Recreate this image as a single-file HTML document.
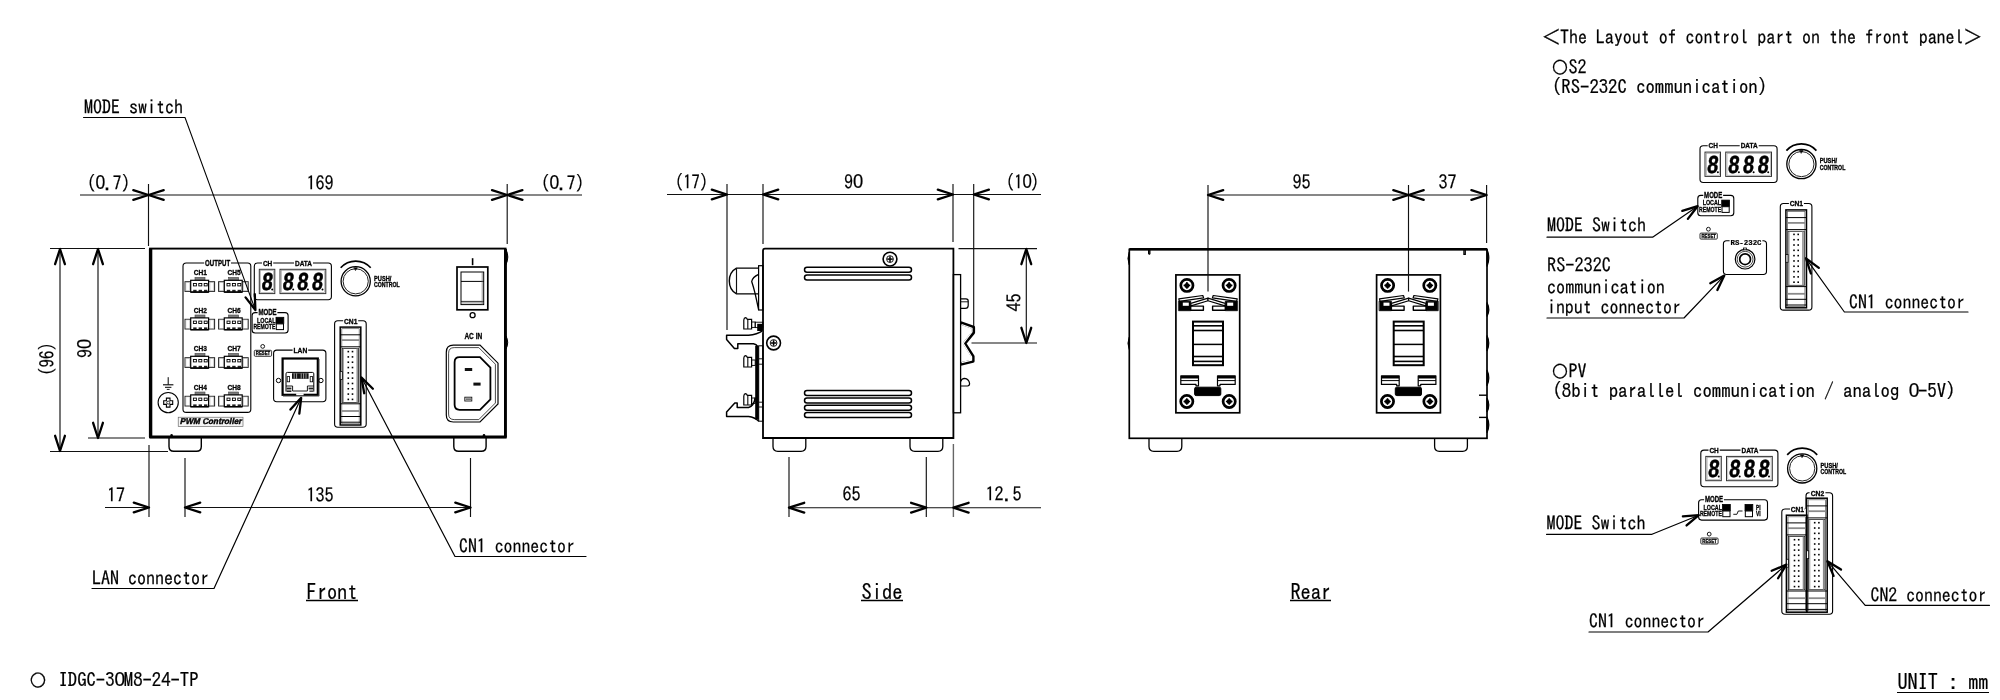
<!DOCTYPE html>
<html lang="en"><head><meta charset="utf-8"><title>IDGC-30M8-24-TP outline drawing</title>
<style>
html,body{margin:0;padding:0;background:#fff;}
body{width:2000px;height:700px;overflow:hidden;}
svg{display:block;will-change:transform;}
text{fill:#000;}
</style></head><body>
<svg width="2000" height="700" viewBox="0 0 2000 700">
<rect x="0" y="0" width="2000" height="700" fill="#fff"/>
<line x1="80.00" y1="195.00" x2="582.00" y2="195.00" stroke="#111" stroke-width="1.15" />
<line x1="148.50" y1="184.00" x2="148.50" y2="246.00" stroke="#111" stroke-width="1.15" />
<line x1="507.20" y1="184.00" x2="507.20" y2="244.00" stroke="#111" stroke-width="1.15" />
<path d="M133.30 199.90 L148.50 195.00 L133.30 190.10" stroke="#000" stroke-width="2.3" fill="none" stroke-linejoin="round" stroke-linecap="round"/>
<path d="M163.70 190.10 L148.50 195.00 L163.70 199.90" stroke="#000" stroke-width="2.3" fill="none" stroke-linejoin="round" stroke-linecap="round"/>
<path d="M492.00 199.90 L507.20 195.00 L492.00 190.10" stroke="#000" stroke-width="2.3" fill="none" stroke-linejoin="round" stroke-linecap="round"/>
<path d="M522.40 190.10 L507.20 195.00 L522.40 199.90" stroke="#000" stroke-width="2.3" fill="none" stroke-linejoin="round" stroke-linecap="round"/>
<text transform="translate(87.00,190.00) scale(0.8912,1)" x="0.00 9.65 19.30 28.95 38.60" font-family='"IPAGothic","Liberation Mono",monospace' font-size="19.3" stroke="#000" stroke-width="0.22" ><tspan y="0">(</tspan><tspan y="-1.0" font-family='"Liberation Sans",sans-serif' font-size="19.69">0</tspan><tspan y="0">.7)</tspan></text>
<text transform="translate(306.50,190.00) scale(0.9326,1)" font-family='"IPAGothic","Liberation Mono",monospace' font-size="19.3" stroke="#000" stroke-width="0.22" >169</text>
<text transform="translate(541.00,190.00) scale(0.8912,1)" x="0.00 9.65 19.30 28.95 38.60" font-family='"IPAGothic","Liberation Mono",monospace' font-size="19.3" stroke="#000" stroke-width="0.22" ><tspan y="0">(</tspan><tspan y="-1.0" font-family='"Liberation Sans",sans-serif' font-size="19.69">0</tspan><tspan y="0">.7)</tspan></text>
<line x1="60.00" y1="250.00" x2="60.00" y2="449.00" stroke="#111" stroke-width="1.15" />
<line x1="98.00" y1="250.00" x2="98.00" y2="437.00" stroke="#111" stroke-width="1.15" />
<line x1="50.00" y1="248.50" x2="145.00" y2="248.50" stroke="#111" stroke-width="1.15" />
<line x1="88.00" y1="438.00" x2="145.00" y2="438.00" stroke="#111" stroke-width="1.15" />
<line x1="50.00" y1="451.50" x2="168.00" y2="451.50" stroke="#111" stroke-width="1.15" />
<path d="M64.90 264.20 L60.00 249.00 L55.10 264.20" stroke="#000" stroke-width="2.3" fill="none" stroke-linejoin="round" stroke-linecap="round"/>
<path d="M55.10 435.80 L60.00 451.00 L64.90 435.80" stroke="#000" stroke-width="2.3" fill="none" stroke-linejoin="round" stroke-linecap="round"/>
<path d="M102.90 264.20 L98.00 249.00 L93.10 264.20" stroke="#000" stroke-width="2.3" fill="none" stroke-linejoin="round" stroke-linecap="round"/>
<path d="M93.10 422.80 L98.00 438.00 L102.90 422.80" stroke="#000" stroke-width="2.3" fill="none" stroke-linejoin="round" stroke-linecap="round"/>
<g transform="translate(54.4,375.8) rotate(-90)">
<text transform="translate(0.00,0.00) scale(0.8679,1)" font-family='"IPAGothic","Liberation Mono",monospace' font-size="19.3" stroke="#000" stroke-width="0.22" >(96)</text>
</g>
<g transform="translate(92,358)  rotate(-90)">
<text transform="translate(0.00,0.00) scale(0.9326,1)" x="0.00 9.65" font-family='"IPAGothic","Liberation Mono",monospace' font-size="19.3" stroke="#000" stroke-width="0.22" ><tspan y="0">9</tspan><tspan y="-1.0" font-family='"Liberation Sans",sans-serif' font-size="19.69">0</tspan></text>
</g>
<line x1="105.00" y1="507.50" x2="149.00" y2="507.50" stroke="#111" stroke-width="1.15" />
<line x1="185.00" y1="507.50" x2="470.00" y2="507.50" stroke="#111" stroke-width="1.15" />
<line x1="149.00" y1="445.00" x2="149.00" y2="517.00" stroke="#111" stroke-width="1.15" />
<line x1="185.00" y1="458.00" x2="185.00" y2="517.00" stroke="#111" stroke-width="1.15" />
<line x1="470.50" y1="458.00" x2="470.50" y2="517.00" stroke="#111" stroke-width="1.15" />
<path d="M133.80 512.40 L149.00 507.50 L133.80 502.60" stroke="#000" stroke-width="2.3" fill="none" stroke-linejoin="round" stroke-linecap="round"/>
<path d="M200.20 502.60 L185.00 507.50 L200.20 512.40" stroke="#000" stroke-width="2.3" fill="none" stroke-linejoin="round" stroke-linecap="round"/>
<path d="M455.30 512.40 L470.50 507.50 L455.30 502.60" stroke="#000" stroke-width="2.3" fill="none" stroke-linejoin="round" stroke-linecap="round"/>
<text transform="translate(107.00,502.00) scale(0.9326,1)" font-family='"IPAGothic","Liberation Mono",monospace' font-size="19.3" stroke="#000" stroke-width="0.22" >17</text>
<text transform="translate(306.50,502.00) scale(0.9326,1)" font-family='"IPAGothic","Liberation Mono",monospace' font-size="19.3" stroke="#000" stroke-width="0.22" >135</text>
<rect x="150.00" y="248.60" width="355.60" height="188.60" stroke="#000" stroke-width="1.9" fill="none"/>
<line x1="150.60" y1="249.00" x2="150.60" y2="437.00" stroke="#000" stroke-width="3.4" />
<line x1="505.40" y1="249.00" x2="505.40" y2="437.00" stroke="#000" stroke-width="2.8" />
<line x1="149.60" y1="437.00" x2="506.60" y2="437.00" stroke="#000" stroke-width="2.9" />
<path d="M506 249.5 Q509.6 257 506 264.5 Z" stroke="#000" stroke-width="1" fill="#000" />
<path d="M506 336 Q509.4 342.5 506 349 Z" stroke="#000" stroke-width="1" fill="#000" />
<path d="M169 438 V446.5 Q169 451.3 173.8 451.3 H196.5 Q201.3 451.3 201.3 446.5 V438" stroke="#000" stroke-width="1.4" fill="none" />
<path d="M453.8 438 V446.5 Q453.8 451.3 458.6 451.3 H481.3 Q486.1 451.3 486.1 446.5 V438" stroke="#000" stroke-width="1.4" fill="none" />
<circle cx="171.60" cy="435.40" r="1.30" stroke="#000" stroke-width="0" fill="#000"/>
<circle cx="484.00" cy="435.40" r="1.30" stroke="#000" stroke-width="0" fill="#000"/>
<g transform="translate(0.00,0.00)">
<path d="M183 266.2 V409.2 Q183 412.4 186.2 412.4 H247.60000000000002 Q250.8 412.4 250.8 409.2 V266.2 Q250.8 263 247.60000000000002 263 H231 M204.2 263 H186.2 Q183 263 183 266.2" stroke="#000" stroke-width="1.1" fill="none" />
<text x="217.60" y="265.70" font-family='"Liberation Sans",sans-serif' font-size="8.16" font-weight="bold" text-anchor="middle" textLength="25.0" lengthAdjust="spacingAndGlyphs"  stroke="#000" stroke-width="0.32">OUTPUT</text>
<text x="200.40" y="275.10" font-family='"Liberation Sans",sans-serif' font-size="7.92" font-weight="bold" text-anchor="middle" textLength="13.2" lengthAdjust="spacingAndGlyphs"  stroke="#000" stroke-width="0.32">CH1</text>
<rect x="195.00" y="277.40" width="10.00" height="3.00" stroke="#444" stroke-width="0.6" fill="#7d7d7d"/>
<rect x="185.00" y="281.70" width="29.60" height="9.70" stroke="#222" stroke-width="1.0" fill="none"/>
<rect x="185.90" y="282.30" width="3.70" height="8.50" stroke="#aaa" stroke-width="0.5" fill="none"/>
<rect x="210.00" y="282.30" width="3.70" height="8.50" stroke="#aaa" stroke-width="0.5" fill="none"/>
<rect x="190.70" y="280.30" width="17.90" height="11.80" stroke="#000" stroke-width="1.2" fill="#fff"/>
<rect x="193.40" y="283.50" width="3.00" height="2.40" stroke="#000" stroke-width="0.9" fill="none"/>
<rect x="193.20" y="289.80" width="3.40" height="2.30" stroke="none" stroke-width="0" fill="#222"/>
<rect x="198.80" y="283.50" width="3.00" height="2.40" stroke="#000" stroke-width="0.9" fill="none"/>
<rect x="198.60" y="289.80" width="3.40" height="2.30" stroke="none" stroke-width="0" fill="#222"/>
<rect x="204.20" y="283.50" width="3.00" height="2.40" stroke="#000" stroke-width="0.9" fill="none"/>
<rect x="204.00" y="289.80" width="3.40" height="2.30" stroke="none" stroke-width="0" fill="#222"/>
<line x1="190.70" y1="292.10" x2="208.60" y2="292.10" stroke="#000" stroke-width="1.4" />
<text x="234.00" y="275.10" font-family='"Liberation Sans",sans-serif' font-size="7.92" font-weight="bold" text-anchor="middle" textLength="13.2" lengthAdjust="spacingAndGlyphs"  stroke="#000" stroke-width="0.32">CH5</text>
<rect x="228.60" y="277.40" width="10.00" height="3.00" stroke="#444" stroke-width="0.6" fill="#7d7d7d"/>
<rect x="218.60" y="281.70" width="29.60" height="9.70" stroke="#222" stroke-width="1.0" fill="none"/>
<rect x="219.50" y="282.30" width="3.70" height="8.50" stroke="#aaa" stroke-width="0.5" fill="none"/>
<rect x="243.60" y="282.30" width="3.70" height="8.50" stroke="#aaa" stroke-width="0.5" fill="none"/>
<rect x="224.30" y="280.30" width="17.90" height="11.80" stroke="#000" stroke-width="1.2" fill="#fff"/>
<rect x="227.00" y="283.50" width="3.00" height="2.40" stroke="#000" stroke-width="0.9" fill="none"/>
<rect x="226.80" y="289.80" width="3.40" height="2.30" stroke="none" stroke-width="0" fill="#222"/>
<rect x="232.40" y="283.50" width="3.00" height="2.40" stroke="#000" stroke-width="0.9" fill="none"/>
<rect x="232.20" y="289.80" width="3.40" height="2.30" stroke="none" stroke-width="0" fill="#222"/>
<rect x="237.80" y="283.50" width="3.00" height="2.40" stroke="#000" stroke-width="0.9" fill="none"/>
<rect x="237.60" y="289.80" width="3.40" height="2.30" stroke="none" stroke-width="0" fill="#222"/>
<line x1="224.30" y1="292.10" x2="242.20" y2="292.10" stroke="#000" stroke-width="1.4" />
<text x="200.40" y="312.70" font-family='"Liberation Sans",sans-serif' font-size="7.92" font-weight="bold" text-anchor="middle" textLength="13.2" lengthAdjust="spacingAndGlyphs"  stroke="#000" stroke-width="0.32">CH2</text>
<rect x="195.00" y="315.00" width="10.00" height="3.00" stroke="#444" stroke-width="0.6" fill="#7d7d7d"/>
<rect x="185.00" y="319.30" width="29.60" height="9.70" stroke="#222" stroke-width="1.0" fill="none"/>
<rect x="185.90" y="319.90" width="3.70" height="8.50" stroke="#aaa" stroke-width="0.5" fill="none"/>
<rect x="210.00" y="319.90" width="3.70" height="8.50" stroke="#aaa" stroke-width="0.5" fill="none"/>
<rect x="190.70" y="317.90" width="17.90" height="11.80" stroke="#000" stroke-width="1.2" fill="#fff"/>
<rect x="193.40" y="321.10" width="3.00" height="2.40" stroke="#000" stroke-width="0.9" fill="none"/>
<rect x="193.20" y="327.40" width="3.40" height="2.30" stroke="none" stroke-width="0" fill="#222"/>
<rect x="198.80" y="321.10" width="3.00" height="2.40" stroke="#000" stroke-width="0.9" fill="none"/>
<rect x="198.60" y="327.40" width="3.40" height="2.30" stroke="none" stroke-width="0" fill="#222"/>
<rect x="204.20" y="321.10" width="3.00" height="2.40" stroke="#000" stroke-width="0.9" fill="none"/>
<rect x="204.00" y="327.40" width="3.40" height="2.30" stroke="none" stroke-width="0" fill="#222"/>
<line x1="190.70" y1="329.70" x2="208.60" y2="329.70" stroke="#000" stroke-width="1.4" />
<text x="234.00" y="312.70" font-family='"Liberation Sans",sans-serif' font-size="7.92" font-weight="bold" text-anchor="middle" textLength="13.2" lengthAdjust="spacingAndGlyphs"  stroke="#000" stroke-width="0.32">CH6</text>
<rect x="228.60" y="315.00" width="10.00" height="3.00" stroke="#444" stroke-width="0.6" fill="#7d7d7d"/>
<rect x="218.60" y="319.30" width="29.60" height="9.70" stroke="#222" stroke-width="1.0" fill="none"/>
<rect x="219.50" y="319.90" width="3.70" height="8.50" stroke="#aaa" stroke-width="0.5" fill="none"/>
<rect x="243.60" y="319.90" width="3.70" height="8.50" stroke="#aaa" stroke-width="0.5" fill="none"/>
<rect x="224.30" y="317.90" width="17.90" height="11.80" stroke="#000" stroke-width="1.2" fill="#fff"/>
<rect x="227.00" y="321.10" width="3.00" height="2.40" stroke="#000" stroke-width="0.9" fill="none"/>
<rect x="226.80" y="327.40" width="3.40" height="2.30" stroke="none" stroke-width="0" fill="#222"/>
<rect x="232.40" y="321.10" width="3.00" height="2.40" stroke="#000" stroke-width="0.9" fill="none"/>
<rect x="232.20" y="327.40" width="3.40" height="2.30" stroke="none" stroke-width="0" fill="#222"/>
<rect x="237.80" y="321.10" width="3.00" height="2.40" stroke="#000" stroke-width="0.9" fill="none"/>
<rect x="237.60" y="327.40" width="3.40" height="2.30" stroke="none" stroke-width="0" fill="#222"/>
<line x1="224.30" y1="329.70" x2="242.20" y2="329.70" stroke="#000" stroke-width="1.4" />
<text x="200.40" y="351.10" font-family='"Liberation Sans",sans-serif' font-size="7.92" font-weight="bold" text-anchor="middle" textLength="13.2" lengthAdjust="spacingAndGlyphs"  stroke="#000" stroke-width="0.32">CH3</text>
<rect x="195.00" y="353.40" width="10.00" height="3.00" stroke="#444" stroke-width="0.6" fill="#7d7d7d"/>
<rect x="185.00" y="357.70" width="29.60" height="9.70" stroke="#222" stroke-width="1.0" fill="none"/>
<rect x="185.90" y="358.30" width="3.70" height="8.50" stroke="#aaa" stroke-width="0.5" fill="none"/>
<rect x="210.00" y="358.30" width="3.70" height="8.50" stroke="#aaa" stroke-width="0.5" fill="none"/>
<rect x="190.70" y="356.30" width="17.90" height="11.80" stroke="#000" stroke-width="1.2" fill="#fff"/>
<rect x="193.40" y="359.50" width="3.00" height="2.40" stroke="#000" stroke-width="0.9" fill="none"/>
<rect x="193.20" y="365.80" width="3.40" height="2.30" stroke="none" stroke-width="0" fill="#222"/>
<rect x="198.80" y="359.50" width="3.00" height="2.40" stroke="#000" stroke-width="0.9" fill="none"/>
<rect x="198.60" y="365.80" width="3.40" height="2.30" stroke="none" stroke-width="0" fill="#222"/>
<rect x="204.20" y="359.50" width="3.00" height="2.40" stroke="#000" stroke-width="0.9" fill="none"/>
<rect x="204.00" y="365.80" width="3.40" height="2.30" stroke="none" stroke-width="0" fill="#222"/>
<line x1="190.70" y1="368.10" x2="208.60" y2="368.10" stroke="#000" stroke-width="1.4" />
<text x="234.00" y="351.10" font-family='"Liberation Sans",sans-serif' font-size="7.92" font-weight="bold" text-anchor="middle" textLength="13.2" lengthAdjust="spacingAndGlyphs"  stroke="#000" stroke-width="0.32">CH7</text>
<rect x="228.60" y="353.40" width="10.00" height="3.00" stroke="#444" stroke-width="0.6" fill="#7d7d7d"/>
<rect x="218.60" y="357.70" width="29.60" height="9.70" stroke="#222" stroke-width="1.0" fill="none"/>
<rect x="219.50" y="358.30" width="3.70" height="8.50" stroke="#aaa" stroke-width="0.5" fill="none"/>
<rect x="243.60" y="358.30" width="3.70" height="8.50" stroke="#aaa" stroke-width="0.5" fill="none"/>
<rect x="224.30" y="356.30" width="17.90" height="11.80" stroke="#000" stroke-width="1.2" fill="#fff"/>
<rect x="227.00" y="359.50" width="3.00" height="2.40" stroke="#000" stroke-width="0.9" fill="none"/>
<rect x="226.80" y="365.80" width="3.40" height="2.30" stroke="none" stroke-width="0" fill="#222"/>
<rect x="232.40" y="359.50" width="3.00" height="2.40" stroke="#000" stroke-width="0.9" fill="none"/>
<rect x="232.20" y="365.80" width="3.40" height="2.30" stroke="none" stroke-width="0" fill="#222"/>
<rect x="237.80" y="359.50" width="3.00" height="2.40" stroke="#000" stroke-width="0.9" fill="none"/>
<rect x="237.60" y="365.80" width="3.40" height="2.30" stroke="none" stroke-width="0" fill="#222"/>
<line x1="224.30" y1="368.10" x2="242.20" y2="368.10" stroke="#000" stroke-width="1.4" />
<text x="200.40" y="389.70" font-family='"Liberation Sans",sans-serif' font-size="7.92" font-weight="bold" text-anchor="middle" textLength="13.2" lengthAdjust="spacingAndGlyphs"  stroke="#000" stroke-width="0.32">CH4</text>
<rect x="195.00" y="392.00" width="10.00" height="3.00" stroke="#444" stroke-width="0.6" fill="#7d7d7d"/>
<rect x="185.00" y="396.30" width="29.60" height="9.70" stroke="#222" stroke-width="1.0" fill="none"/>
<rect x="185.90" y="396.90" width="3.70" height="8.50" stroke="#aaa" stroke-width="0.5" fill="none"/>
<rect x="210.00" y="396.90" width="3.70" height="8.50" stroke="#aaa" stroke-width="0.5" fill="none"/>
<rect x="190.70" y="394.90" width="17.90" height="11.80" stroke="#000" stroke-width="1.2" fill="#fff"/>
<rect x="193.40" y="398.10" width="3.00" height="2.40" stroke="#000" stroke-width="0.9" fill="none"/>
<rect x="193.20" y="404.40" width="3.40" height="2.30" stroke="none" stroke-width="0" fill="#222"/>
<rect x="198.80" y="398.10" width="3.00" height="2.40" stroke="#000" stroke-width="0.9" fill="none"/>
<rect x="198.60" y="404.40" width="3.40" height="2.30" stroke="none" stroke-width="0" fill="#222"/>
<rect x="204.20" y="398.10" width="3.00" height="2.40" stroke="#000" stroke-width="0.9" fill="none"/>
<rect x="204.00" y="404.40" width="3.40" height="2.30" stroke="none" stroke-width="0" fill="#222"/>
<line x1="190.70" y1="406.70" x2="208.60" y2="406.70" stroke="#000" stroke-width="1.4" />
<text x="234.00" y="389.70" font-family='"Liberation Sans",sans-serif' font-size="7.92" font-weight="bold" text-anchor="middle" textLength="13.2" lengthAdjust="spacingAndGlyphs"  stroke="#000" stroke-width="0.32">CH8</text>
<rect x="228.60" y="392.00" width="10.00" height="3.00" stroke="#444" stroke-width="0.6" fill="#7d7d7d"/>
<rect x="218.60" y="396.30" width="29.60" height="9.70" stroke="#222" stroke-width="1.0" fill="none"/>
<rect x="219.50" y="396.90" width="3.70" height="8.50" stroke="#aaa" stroke-width="0.5" fill="none"/>
<rect x="243.60" y="396.90" width="3.70" height="8.50" stroke="#aaa" stroke-width="0.5" fill="none"/>
<rect x="224.30" y="394.90" width="17.90" height="11.80" stroke="#000" stroke-width="1.2" fill="#fff"/>
<rect x="227.00" y="398.10" width="3.00" height="2.40" stroke="#000" stroke-width="0.9" fill="none"/>
<rect x="226.80" y="404.40" width="3.40" height="2.30" stroke="none" stroke-width="0" fill="#222"/>
<rect x="232.40" y="398.10" width="3.00" height="2.40" stroke="#000" stroke-width="0.9" fill="none"/>
<rect x="232.20" y="404.40" width="3.40" height="2.30" stroke="none" stroke-width="0" fill="#222"/>
<rect x="237.80" y="398.10" width="3.00" height="2.40" stroke="#000" stroke-width="0.9" fill="none"/>
<rect x="237.60" y="404.40" width="3.40" height="2.30" stroke="none" stroke-width="0" fill="#222"/>
<line x1="224.30" y1="406.70" x2="242.20" y2="406.70" stroke="#000" stroke-width="1.4" />
<rect x="178.20" y="417.20" width="64.80" height="9.20" stroke="#555" stroke-width="0.6" fill="#f4f4f4"/>
<text transform="translate(210.6,424.4) skewX(-12) scale(0.98,1)" font-family='"Liberation Sans",sans-serif' font-size="8.4" font-weight="bold" text-anchor="middle" stroke="#000" stroke-width="0.4">PWM Controller</text>
<circle cx="168.20" cy="402.60" r="10.10" stroke="#000" stroke-width="1.1" fill="none"/>
<path d="M163.7 400.8 h2.7 v-2.7 h3.6 v2.7 h2.7 v3.6 h-2.7 v2.7 h-3.6 v-2.7 h-2.7 Z" stroke="#000" stroke-width="1.1" fill="none" />
<circle cx="168.20" cy="402.60" r="1.50" stroke="#000" stroke-width="0.8" fill="none"/>
<line x1="168.20" y1="377.20" x2="168.20" y2="384.60" stroke="#000" stroke-width="1.0" />
<line x1="163.00" y1="384.80" x2="173.40" y2="384.80" stroke="#000" stroke-width="1.1" />
<line x1="165.00" y1="387.30" x2="171.40" y2="387.30" stroke="#000" stroke-width="1.0" />
<line x1="166.80" y1="389.40" x2="169.60" y2="389.40" stroke="#000" stroke-width="0.9" />
</g>
<g transform="translate(0.00,0.00)">
<path d="M254.3 266.2 V296.5 Q254.3 299.7 257.5 299.7 H328.2 Q331.4 299.7 331.4 296.5 V266.2 Q331.4 263 328.2 263 H313 M294 263 H273.2 M262 263 H257.5 Q254.3 263 254.3 266.2" stroke="#000" stroke-width="1.1" fill="none" />
<text x="267.60" y="265.60" font-family='"Liberation Sans",sans-serif' font-size="7.92" font-weight="bold" text-anchor="middle" textLength="9.4" lengthAdjust="spacingAndGlyphs"  stroke="#000" stroke-width="0.32">CH</text>
<text x="303.50" y="265.60" font-family='"Liberation Sans",sans-serif' font-size="7.92" font-weight="bold" text-anchor="middle" textLength="17.0" lengthAdjust="spacingAndGlyphs"  stroke="#000" stroke-width="0.32">DATA</text>
<rect x="259.30" y="269.30" width="15.50" height="24.30" stroke="#333" stroke-width="1" fill="none"/>
<rect x="260.60" y="270.50" width="13.00" height="21.90" stroke="#999" stroke-width="0.6" fill="none"/>
<rect x="280.00" y="269.30" width="45.80" height="24.30" stroke="#333" stroke-width="1" fill="none"/>
<rect x="281.30" y="270.50" width="43.30" height="21.90" stroke="#999" stroke-width="0.6" fill="none"/>
<text transform="translate(260.90,290.20) skewX(-7) scale(0.80,1)" font-family='"Liberation Sans",sans-serif' font-size="24.6" font-weight="bold" stroke="#000" stroke-width="0.5">8</text>
<circle cx="272.20" cy="289.50" r="1.00" stroke="#000" stroke-width="0" fill="#000"/>
<text transform="translate(281.90,290.20) skewX(-7) scale(0.80,1)" font-family='"Liberation Sans",sans-serif' font-size="24.6" font-weight="bold" stroke="#000" stroke-width="0.5">8</text>
<circle cx="293.20" cy="289.50" r="1.00" stroke="#000" stroke-width="0" fill="#000"/>
<text transform="translate(296.60,290.20) skewX(-7) scale(0.80,1)" font-family='"Liberation Sans",sans-serif' font-size="24.6" font-weight="bold" stroke="#000" stroke-width="0.5">8</text>
<circle cx="307.90" cy="289.50" r="1.00" stroke="#000" stroke-width="0" fill="#000"/>
<text transform="translate(311.20,290.20) skewX(-7) scale(0.80,1)" font-family='"Liberation Sans",sans-serif' font-size="24.6" font-weight="bold" stroke="#000" stroke-width="0.5">8</text>
<circle cx="322.50" cy="289.50" r="1.00" stroke="#000" stroke-width="0" fill="#000"/>
</g>
<g transform="translate(0.00,0.00)">
<circle cx="355.70" cy="281.30" r="14.60" stroke="#000" stroke-width="1.3" fill="none"/>
<circle cx="355.70" cy="281.30" r="12.60" stroke="#222" stroke-width="1.0" fill="none"/>
<path d="M340.69 267.78 A20.2 20.2 0 0 1 370.71 267.78" stroke="#000" stroke-width="1.7" fill="none" />
<path d="M354.10 267.70 L357.30 267.70 L355.70 270.30 Z" stroke="#000" stroke-width="0.6" fill="#000" stroke-linejoin="round" stroke-linecap="round"/>
<text x="374.00" y="280.50" font-family='"Liberation Sans",sans-serif' font-size="6.48" font-weight="bold" text-anchor="start" textLength="17.4" lengthAdjust="spacingAndGlyphs"  stroke="#000" stroke-width="0.32">PUSH/</text>
<text x="374.00" y="287.00" font-family='"Liberation Sans",sans-serif' font-size="6.48" font-weight="bold" text-anchor="start" textLength="25.6" lengthAdjust="spacingAndGlyphs"  stroke="#000" stroke-width="0.32">CONTROL</text>
</g>
<g transform="translate(0.00,0.00)">
<path d="M252.1 315.6 V330 Q252.1 333 255.1 333 H285.1 Q288.1 333 288.1 330 V315.6 Q288.1 312.6 285.1 312.6 H277.4 M257.6 312.6 H255.1 Q252.1 312.6 252.1 315.6" stroke="#000" stroke-width="1.1" fill="none" />
<text x="267.50" y="315.20" font-family='"Liberation Sans",sans-serif' font-size="8.64" font-weight="bold" text-anchor="middle" textLength="18.2" lengthAdjust="spacingAndGlyphs"  stroke="#000" stroke-width="0.32">MODE</text>
<text x="275.40" y="322.60" font-family='"Liberation Sans",sans-serif' font-size="7.68" font-weight="bold" text-anchor="end" textLength="18.4" lengthAdjust="spacingAndGlyphs"  stroke="#000" stroke-width="0.32">LOCAL</text>
<text x="275.40" y="329.40" font-family='"Liberation Sans",sans-serif' font-size="7.68" font-weight="bold" text-anchor="end" textLength="22.0" lengthAdjust="spacingAndGlyphs"  stroke="#000" stroke-width="0.32">REMOTE</text>
<rect x="276.00" y="317.30" width="7.80" height="6.30" stroke="#000" stroke-width="0.8" fill="#000"/>
<rect x="276.30" y="323.90" width="7.20" height="5.70" stroke="#000" stroke-width="1.0" fill="#fff"/>
</g>
<g transform="translate(0.00,0.00)">
<circle cx="262.70" cy="346.40" r="1.90" stroke="#000" stroke-width="0.9" fill="none"/>
<rect x="254.30" y="350.30" width="17.30" height="6.00" stroke="#000" stroke-width="0.8" fill="none" rx="1" ry="1"/>
<text x="263.00" y="355.20" font-family='"Liberation Sans",sans-serif' font-size="5.76" font-weight="bold" text-anchor="middle" textLength="14.4" lengthAdjust="spacingAndGlyphs"  stroke="#000" stroke-width="0.32">RESET</text>
</g>
<g transform="translate(0.00,0.00)">
<path d="M273.6 353.3 V398.6 Q273.6 401.8 276.8 401.8 H322.7 Q325.9 401.8 325.9 398.6 V353.3 Q325.9 350.1 322.7 350.1 H308.2 M292.6 350.1 H276.8 Q273.6 350.1 273.6 353.3" stroke="#000" stroke-width="1.1" fill="none" />
<text x="300.40" y="353.00" font-family='"Liberation Sans",sans-serif' font-size="7.92" font-weight="bold" text-anchor="middle" textLength="13.8" lengthAdjust="spacingAndGlyphs"  stroke="#000" stroke-width="0.32">LAN</text>
<rect x="282.60" y="358.50" width="35.20" height="36.30" stroke="#000" stroke-width="2.2" fill="none"/>
<line x1="319.20" y1="359.00" x2="319.20" y2="396.00" stroke="#555" stroke-width="0.8" />
<line x1="283.00" y1="396.20" x2="319.20" y2="396.20" stroke="#555" stroke-width="0.8" />
<circle cx="278.50" cy="380.50" r="2.20" stroke="#000" stroke-width="1.0" fill="none"/>
<circle cx="320.90" cy="380.50" r="2.20" stroke="#000" stroke-width="1.0" fill="none"/>
<path d="M286 391.6 V373.8 Q286 372.4 287.4 372.4 H312.4 Q313.8 372.4 313.8 373.8 V391.6" stroke="#000" stroke-width="1.0" fill="none" />
<rect x="292.00" y="373.20" width="16.60" height="5.60" stroke="none" stroke-width="0" fill="#111"/>
<line x1="294.20" y1="373.40" x2="294.20" y2="378.60" stroke="#fff" stroke-width="0.6" />
<line x1="296.60" y1="373.40" x2="296.60" y2="378.60" stroke="#fff" stroke-width="0.6" />
<line x1="301.20" y1="373.40" x2="301.20" y2="378.60" stroke="#fff" stroke-width="0.6" />
<line x1="303.60" y1="373.40" x2="303.60" y2="378.60" stroke="#fff" stroke-width="0.6" />
<line x1="306.00" y1="373.40" x2="306.00" y2="378.60" stroke="#fff" stroke-width="0.6" />
<rect x="287.20" y="376.60" width="2.40" height="5.20" stroke="#000" stroke-width="0.8" fill="none"/>
<rect x="310.20" y="376.60" width="2.40" height="5.20" stroke="#000" stroke-width="0.8" fill="none"/>
<path d="M286 386 H292.6 V391 H307.4 V386 H313.8" stroke="#000" stroke-width="0.9" fill="none" />
<rect x="286.60" y="387.60" width="4.80" height="1.80" stroke="none" stroke-width="0" fill="#222"/>
<rect x="286.60" y="390.40" width="4.80" height="1.60" stroke="none" stroke-width="0" fill="#222"/>
<rect x="308.60" y="387.60" width="4.80" height="1.80" stroke="none" stroke-width="0" fill="#222"/>
<rect x="309.40" y="390.40" width="4.00" height="1.60" stroke="none" stroke-width="0" fill="#555"/>
<rect x="296.20" y="393.30" width="7.40" height="1.90" stroke="none" stroke-width="0" fill="#fff"/>
</g>
<g transform="translate(0.00,0.00)">
<path d="M334.6 323.9 V424.1 Q334.6 427.3 337.8 427.3 H363.0 Q366.2 427.3 366.2 424.1 V323.9 Q366.2 320.7 363.0 320.7 H358.2 M343.2 320.7 H337.8 Q334.6 320.7 334.6 323.9" stroke="#000" stroke-width="1.1" fill="none" />
<text x="350.70" y="323.60" font-family='"Liberation Sans",sans-serif' font-size="7.92" font-weight="bold" text-anchor="middle" textLength="13.4" lengthAdjust="spacingAndGlyphs"  stroke="#000" stroke-width="0.32">CN1</text>
</g>
<g transform="translate(0.00,0.00)">
<rect x="340.20" y="327.10" width="20.60" height="97.90" stroke="#000" stroke-width="1.5" fill="none"/>
<rect x="341.80" y="328.70" width="17.40" height="95.10" stroke="#555" stroke-width="0.7" fill="none"/>
<line x1="340.20" y1="334.80" x2="360.80" y2="334.80" stroke="#000" stroke-width="1.0" />
<line x1="341.70" y1="340.10" x2="359.30" y2="340.10" stroke="#8a8a8a" stroke-width="1.8" />
<line x1="340.20" y1="346.80" x2="360.80" y2="346.80" stroke="#000" stroke-width="1.0" />
<rect x="342.30" y="348.50" width="16.20" height="54.00" stroke="#222" stroke-width="0.8" fill="none"/>
<line x1="357.20" y1="348.50" x2="357.20" y2="402.50" stroke="#8a8a8a" stroke-width="1.4" />
<line x1="343.40" y1="348.50" x2="343.40" y2="402.50" stroke="#777" stroke-width="0.7" />
<rect x="347.50" y="350.80" width="1.60" height="1.60" stroke="none" stroke-width="0" fill="#000"/>
<rect x="351.70" y="350.80" width="1.60" height="1.60" stroke="none" stroke-width="0" fill="#000"/>
<rect x="347.50" y="356.11" width="1.60" height="1.60" stroke="none" stroke-width="0" fill="#000"/>
<rect x="351.70" y="356.11" width="1.60" height="1.60" stroke="none" stroke-width="0" fill="#000"/>
<rect x="347.50" y="361.42" width="1.60" height="1.60" stroke="none" stroke-width="0" fill="#000"/>
<rect x="351.70" y="361.42" width="1.60" height="1.60" stroke="none" stroke-width="0" fill="#000"/>
<rect x="347.50" y="366.73" width="1.60" height="1.60" stroke="none" stroke-width="0" fill="#000"/>
<rect x="351.70" y="366.73" width="1.60" height="1.60" stroke="none" stroke-width="0" fill="#000"/>
<rect x="347.50" y="372.04" width="1.60" height="1.60" stroke="none" stroke-width="0" fill="#000"/>
<rect x="351.70" y="372.04" width="1.60" height="1.60" stroke="none" stroke-width="0" fill="#000"/>
<rect x="347.50" y="377.36" width="1.60" height="1.60" stroke="none" stroke-width="0" fill="#000"/>
<rect x="351.70" y="377.36" width="1.60" height="1.60" stroke="none" stroke-width="0" fill="#000"/>
<rect x="347.50" y="382.67" width="1.60" height="1.60" stroke="none" stroke-width="0" fill="#000"/>
<rect x="351.70" y="382.67" width="1.60" height="1.60" stroke="none" stroke-width="0" fill="#000"/>
<rect x="347.50" y="387.98" width="1.60" height="1.60" stroke="none" stroke-width="0" fill="#000"/>
<rect x="351.70" y="387.98" width="1.60" height="1.60" stroke="none" stroke-width="0" fill="#000"/>
<rect x="347.50" y="393.29" width="1.60" height="1.60" stroke="none" stroke-width="0" fill="#000"/>
<rect x="351.70" y="393.29" width="1.60" height="1.60" stroke="none" stroke-width="0" fill="#000"/>
<rect x="347.50" y="398.60" width="1.60" height="1.60" stroke="none" stroke-width="0" fill="#000"/>
<rect x="351.70" y="398.60" width="1.60" height="1.60" stroke="none" stroke-width="0" fill="#000"/>
<rect x="340.20" y="371.60" width="2.10" height="7.90" stroke="#000" stroke-width="0.8" fill="#fff"/>
<line x1="340.20" y1="403.80" x2="360.80" y2="403.80" stroke="#000" stroke-width="1.0" />
<line x1="341.70" y1="411.00" x2="359.30" y2="411.00" stroke="#8a8a8a" stroke-width="1.8" />
<line x1="340.20" y1="416.50" x2="360.80" y2="416.50" stroke="#000" stroke-width="1.0" />
<line x1="340.20" y1="422.20" x2="360.80" y2="422.20" stroke="#000" stroke-width="1.0" />
</g>
<g transform="translate(0.00,0.00)">
<rect x="457.00" y="267.00" width="30.80" height="42.80" stroke="#000" stroke-width="1.7" fill="none"/>
<rect x="461.00" y="272.00" width="22.70" height="32.60" stroke="#000" stroke-width="1.0" fill="none"/>
<line x1="461.00" y1="281.40" x2="483.70" y2="281.40" stroke="#000" stroke-width="1.0" />
<line x1="461.00" y1="301.40" x2="483.70" y2="301.40" stroke="#000" stroke-width="0.8" />
<line x1="461.00" y1="302.90" x2="483.70" y2="302.90" stroke="#666" stroke-width="0.8" />
<line x1="482.20" y1="272.00" x2="482.20" y2="304.60" stroke="#666" stroke-width="0.7" />
<line x1="472.60" y1="258.20" x2="472.60" y2="265.20" stroke="#000" stroke-width="1.6" />
<circle cx="472.60" cy="315.20" r="2.50" stroke="#000" stroke-width="1.3" fill="none"/>
<text x="473.30" y="338.60" font-family='"Liberation Sans",sans-serif' font-size="8.64" font-weight="bold" text-anchor="middle" textLength="17.8" lengthAdjust="spacingAndGlyphs"  stroke="#000" stroke-width="0.32">AC IN</text>
</g>
<g transform="translate(0.00,0.00)">
<path d="M453.3 345.2 H480 L498 363.2 V404 L480 422 H453.3 Q446.3 422 446.3 415 V352.2 Q446.3 345.2 453.3 345.2 Z" stroke="#000" stroke-width="1.2" fill="none" />
<path d="M454.20000000000005 347.6 H478.79999999999995 L495.4 364.20000000000005 V403.0 L478.79999999999995 419.6 H454.20000000000005 Q448.6 419.6 448.6 414.0 V353.20000000000005 Q448.6 347.6 454.20000000000005 347.6 Z" stroke="#333" stroke-width="0.9" fill="none" />
<path d="M459.6 357.2 H480.0 L490.4 367.59999999999997 V399.40000000000003 L480.0 409.8 H459.6 Q454.6 409.8 454.6 404.8 V362.2 Q454.6 357.2 459.6 357.2 Z" stroke="#000" stroke-width="1.8" fill="none" />
<rect x="464.80" y="368.00" width="7.40" height="3.00" stroke="none" stroke-width="0" fill="#111"/>
<rect x="473.40" y="382.60" width="7.20" height="3.00" stroke="none" stroke-width="0" fill="#111"/>
<rect x="464.80" y="397.20" width="7.00" height="3.80" stroke="#111" stroke-width="0.9" fill="#fff"/>
<rect x="465.60" y="398.40" width="5.40" height="1.40" stroke="none" stroke-width="0" fill="#555"/>
</g>
<text transform="translate(84.00,113.50) scale(0.9326,1)" font-family='"IPAGothic","Liberation Mono",monospace' font-size="19.3" stroke="#000" stroke-width="0.22" >MODE switch</text>
<path d="M83.50 117.50 L185.00 117.50 L255.40 310.00" stroke="#000" stroke-width="1.05" fill="none" stroke-linejoin="round" stroke-linecap="round"/>
<path d="M245.57 297.41 L255.40 310.00 L254.78 294.04" stroke="#000" stroke-width="2.3" fill="none" stroke-linejoin="round" stroke-linecap="round"/>
<text transform="translate(92.00,584.50) scale(0.9326,1)" font-family='"IPAGothic","Liberation Mono",monospace' font-size="19.3" stroke="#000" stroke-width="0.22" >LAN connector</text>
<path d="M92.00 588.50 L214.00 588.50 L301.20 397.80" stroke="#000" stroke-width="1.2" fill="none" stroke-linejoin="round" stroke-linecap="round"/>
<path d="M299.33 413.66 L301.20 397.80 L290.42 409.58" stroke="#000" stroke-width="2.3" fill="none" stroke-linejoin="round" stroke-linecap="round"/>
<text transform="translate(459.00,552.50) scale(0.9247,1)" font-family='"IPAGothic","Liberation Mono",monospace' font-size="19.3" stroke="#000" stroke-width="0.22" >CN1 connector</text>
<path d="M586.00 556.50 L455.00 556.50 L361.50 377.50" stroke="#000" stroke-width="1.2" fill="none" stroke-linejoin="round" stroke-linecap="round"/>
<path d="M372.88 388.70 L361.50 377.50 L364.20 393.24" stroke="#000" stroke-width="2.3" fill="none" stroke-linejoin="round" stroke-linecap="round"/>
<text transform="translate(306.50,599.50) scale(0.9488,1)" font-family='"IPAGothic","Liberation Mono",monospace' font-size="21.5" stroke="#000" stroke-width="0.22" >Front</text>
<line x1="306.00" y1="600.60" x2="358.00" y2="600.60" stroke="#000" stroke-width="1.5" />
<line x1="667.00" y1="194.50" x2="1041.00" y2="194.50" stroke="#111" stroke-width="1.15" />
<line x1="727.00" y1="184.00" x2="727.00" y2="330.00" stroke="#111" stroke-width="1.15" />
<line x1="763.00" y1="184.00" x2="763.00" y2="244.00" stroke="#111" stroke-width="1.15" />
<line x1="953.00" y1="184.00" x2="953.00" y2="242.00" stroke="#111" stroke-width="1.15" />
<line x1="973.70" y1="184.00" x2="973.70" y2="333.00" stroke="#111" stroke-width="1.15" />
<path d="M711.80 199.40 L727.00 194.50 L711.80 189.60" stroke="#000" stroke-width="2.3" fill="none" stroke-linejoin="round" stroke-linecap="round"/>
<path d="M778.20 189.60 L763.00 194.50 L778.20 199.40" stroke="#000" stroke-width="2.3" fill="none" stroke-linejoin="round" stroke-linecap="round"/>
<path d="M937.80 199.40 L953.00 194.50 L937.80 189.60" stroke="#000" stroke-width="2.3" fill="none" stroke-linejoin="round" stroke-linecap="round"/>
<path d="M988.90 189.60 L973.70 194.50 L988.90 199.40" stroke="#000" stroke-width="2.3" fill="none" stroke-linejoin="round" stroke-linecap="round"/>
<text transform="translate(675.00,189.00) scale(0.8549,1)" font-family='"IPAGothic","Liberation Mono",monospace' font-size="19.3" stroke="#000" stroke-width="0.22" >(17)</text>
<text transform="translate(844.00,189.00) scale(0.9326,1)" x="0.00 9.65" font-family='"IPAGothic","Liberation Mono",monospace' font-size="19.3" stroke="#000" stroke-width="0.22" ><tspan y="0">9</tspan><tspan y="-1.0" font-family='"Liberation Sans",sans-serif' font-size="19.69">0</tspan></text>
<text transform="translate(1006.00,189.00) scale(0.8549,1)" x="0.00 9.65 19.30 28.95" font-family='"IPAGothic","Liberation Mono",monospace' font-size="19.3" stroke="#000" stroke-width="0.22" ><tspan y="0">(1</tspan><tspan y="-1.0" font-family='"Liberation Sans",sans-serif' font-size="19.69">0</tspan><tspan y="0">)</tspan></text>
<line x1="1026.30" y1="250.00" x2="1026.30" y2="342.00" stroke="#111" stroke-width="1.15" />
<line x1="958.50" y1="248.60" x2="1037.00" y2="248.60" stroke="#111" stroke-width="1.15" />
<line x1="971.50" y1="343.00" x2="1037.00" y2="343.00" stroke="#111" stroke-width="1.15" />
<path d="M1031.20 264.20 L1026.30 249.00 L1021.40 264.20" stroke="#000" stroke-width="2.3" fill="none" stroke-linejoin="round" stroke-linecap="round"/>
<path d="M1021.40 327.80 L1026.30 343.00 L1031.20 327.80" stroke="#000" stroke-width="2.3" fill="none" stroke-linejoin="round" stroke-linecap="round"/>
<g transform="translate(1020.5,311.5) rotate(-90)">
<text transform="translate(0.00,0.00) scale(0.9326,1)" font-family='"IPAGothic","Liberation Mono",monospace' font-size="19.3" stroke="#000" stroke-width="0.22" >45</text>
</g>
<line x1="789.00" y1="507.70" x2="1041.00" y2="507.70" stroke="#111" stroke-width="1.15" />
<line x1="789.00" y1="457.00" x2="789.00" y2="517.00" stroke="#111" stroke-width="1.15" />
<line x1="926.30" y1="457.00" x2="926.30" y2="517.00" stroke="#111" stroke-width="1.15" />
<line x1="953.40" y1="444.00" x2="953.40" y2="517.00" stroke="#666" stroke-width="1.4" />
<path d="M804.20 502.80 L789.00 507.70 L804.20 512.60" stroke="#000" stroke-width="2.3" fill="none" stroke-linejoin="round" stroke-linecap="round"/>
<path d="M911.10 512.60 L926.30 507.70 L911.10 502.80" stroke="#000" stroke-width="2.3" fill="none" stroke-linejoin="round" stroke-linecap="round"/>
<path d="M968.60 502.80 L953.40 507.70 L968.60 512.60" stroke="#000" stroke-width="2.3" fill="none" stroke-linejoin="round" stroke-linecap="round"/>
<text transform="translate(842.50,501.00) scale(0.9326,1)" font-family='"IPAGothic","Liberation Mono",monospace' font-size="19.3" stroke="#000" stroke-width="0.22" >65</text>
<text transform="translate(985.50,501.00) scale(0.9326,1)" font-family='"IPAGothic","Liberation Mono",monospace' font-size="19.3" stroke="#000" stroke-width="0.22" >12.5</text>
<path d="M763 438 V250.6 Q763 248.6 765 248.6 H953.4 V438 Z" stroke="#000" stroke-width="1.8" fill="none" />
<path d="M773 438 V446.5 Q773 451.3 777.8 451.3 H801 Q805.8 451.3 805.8 446.5 V438" stroke="#000" stroke-width="1.3" fill="none" />
<path d="M910 438 V446.5 Q910 451.3 914.8 451.3 H938 Q942.8 451.3 942.8 446.5 V438" stroke="#000" stroke-width="1.3" fill="none" />
<rect x="804.50" y="267.20" width="107.00" height="5.00" stroke="#000" stroke-width="1.5" fill="none" rx="2.5" ry="2.5"/>
<rect x="804.50" y="274.90" width="107.00" height="5.00" stroke="#000" stroke-width="1.5" fill="none" rx="2.5" ry="2.5"/>
<rect x="804.50" y="390.60" width="107.00" height="5.00" stroke="#000" stroke-width="1.5" fill="none" rx="2.5" ry="2.5"/>
<rect x="804.50" y="397.90" width="107.00" height="5.00" stroke="#000" stroke-width="1.5" fill="none" rx="2.5" ry="2.5"/>
<rect x="804.50" y="405.20" width="107.00" height="5.00" stroke="#000" stroke-width="1.5" fill="none" rx="2.5" ry="2.5"/>
<rect x="804.50" y="412.40" width="107.00" height="5.00" stroke="#000" stroke-width="1.5" fill="none" rx="2.5" ry="2.5"/>
<path d="M758.6 268.1 H736.5 Q729.3 272 729.3 281 Q729.3 290 736.5 293.9 H758.6" stroke="#000" stroke-width="1.4" fill="none" />
<line x1="736.50" y1="268.10" x2="736.50" y2="293.90" stroke="#111" stroke-width="1.15" />
<rect x="758.60" y="265.70" width="4.30" height="44.30" stroke="#000" stroke-width="1.2" fill="none"/>
<path d="M758.6 274.3 Q752.5 277 751.7 281.5 Q753.5 287 755.2 293.9 L758.6 309.5" stroke="#000" stroke-width="1.3" fill="none" />
<path d="M743.8 329.0 V320.0 Q744 317.7 745.6 317.59999999999997 Q746.9 317.79999999999995 747.3 319.4 H751.6 V329.0 Z" stroke="#000" stroke-width="1.2" fill="none" />
<line x1="747.80" y1="319.40" x2="747.80" y2="329.00" stroke="#111" stroke-width="1.15" />
<rect x="751.60" y="322.00" width="3.60" height="5.40" stroke="#000" stroke-width="0.9" fill="none"/>
<rect x="755.20" y="322.20" width="7.70" height="5.40" stroke="#000" stroke-width="0.9" fill="none"/>
<rect x="757.20" y="323.80" width="5.70" height="7.20" stroke="none" stroke-width="0" fill="#000"/>
<path d="M762.9 330.6 Q757 334.6 748.6 335.2 H726.6 V339.4 L734.4 348.6 H737.8 V343.7 H753.5 Q756.4 344.2 757.4 346.2" stroke="#000" stroke-width="1.5" fill="#fff" stroke-linejoin="round"/>
<rect x="755.20" y="345.80" width="3.50" height="73.60" stroke="none" stroke-width="0" fill="#000"/>
<rect x="758.70" y="345.80" width="4.20" height="75.40" stroke="#000" stroke-width="1.0" fill="none"/>
<line x1="758.70" y1="358.80" x2="762.90" y2="358.80" stroke="#000" stroke-width="0.9" />
<line x1="758.70" y1="364.20" x2="762.90" y2="364.20" stroke="#000" stroke-width="0.9" />
<line x1="758.70" y1="402.20" x2="762.90" y2="402.20" stroke="#000" stroke-width="0.9" />
<line x1="758.70" y1="407.00" x2="762.90" y2="407.00" stroke="#000" stroke-width="0.9" />
<path d="M743.8 367.0 V358.0 Q744 355.7 745.6 355.59999999999997 Q746.9 355.79999999999995 747.3 357.4 H751.6 V367.0 Z" stroke="#000" stroke-width="1.2" fill="none" />
<line x1="747.80" y1="357.40" x2="747.80" y2="367.00" stroke="#111" stroke-width="1.15" />
<rect x="751.60" y="360.00" width="3.60" height="5.40" stroke="#000" stroke-width="0.9" fill="none"/>
<path d="M743.8 405.0 V396.0 Q744 393.7 745.6 393.59999999999997 Q746.9 393.79999999999995 747.3 395.4 H751.6 V405.0 Z" stroke="#000" stroke-width="1.2" fill="none" />
<line x1="747.80" y1="395.40" x2="747.80" y2="405.00" stroke="#111" stroke-width="1.15" />
<rect x="751.60" y="398.00" width="3.60" height="5.40" stroke="#000" stroke-width="0.9" fill="none"/>
<path d="M755.2 397.6 Q754 406 748.6 407.5 H737.2 V402.9 H734.8 L726.6 412 V416.5 H748.6 Q754.5 417.2 758.8 421.2" stroke="#000" stroke-width="1.5" fill="none" stroke-linejoin="round"/>
<circle cx="890.00" cy="259.10" r="6.90" stroke="#000" stroke-width="1.6" fill="none"/>
<circle cx="890.00" cy="259.10" r="3.40" stroke="#000" stroke-width="0.9" fill="none"/>
<line x1="887.20" y1="259.10" x2="892.80" y2="259.10" stroke="#000" stroke-width="1.5" />
<line x1="890.00" y1="256.30" x2="890.00" y2="261.90" stroke="#000" stroke-width="1.5" />
<circle cx="773.60" cy="343.00" r="6.90" stroke="#000" stroke-width="1.6" fill="none"/>
<circle cx="773.60" cy="343.00" r="3.40" stroke="#000" stroke-width="0.9" fill="none"/>
<line x1="770.80" y1="343.00" x2="776.40" y2="343.00" stroke="#000" stroke-width="1.5" />
<line x1="773.60" y1="340.20" x2="773.60" y2="345.80" stroke="#000" stroke-width="1.5" />
<rect x="953.40" y="274.60" width="7.20" height="138.20" stroke="#000" stroke-width="1.3" fill="none"/>
<path d="M960.6 298.8 H966 Q968.2 298.8 968.2 301 V305.5 Q968.2 308.4 965.2 308.4 H960.6" stroke="#000" stroke-width="1.2" fill="none" />
<line x1="960.60" y1="301.80" x2="968.20" y2="301.80" stroke="#000" stroke-width="0.9" />
<path d="M960.6 386 H967.5 Q969.6 386 969.6 383.6 Q969 379 964.6 378.4 Q961.6 378.6 960.6 381.5" stroke="#000" stroke-width="1.2" fill="none" />
<path d="M960.6 322.8 L973.4 327.4 V332.6 L964.6 343.4 L972.9 356.3 V361.2 L960.6 364" stroke="#000" stroke-width="3.4" fill="none" stroke-linejoin="round"/>
<path d="M961.6 324.5 L972 328.3 V332 L963.2 343.4 L971.6 356.8 V360.2 L961.6 362.6" stroke="#fff" stroke-width="1.2" fill="none" stroke-linejoin="round"/>
<text transform="translate(861.50,599.50) scale(0.9535,1)" font-family='"IPAGothic","Liberation Mono",monospace' font-size="21.5" stroke="#000" stroke-width="0.22" >Side</text>
<line x1="861.00" y1="600.60" x2="903.00" y2="600.60" stroke="#000" stroke-width="1.5" />
<line x1="1208.00" y1="195.00" x2="1486.30" y2="195.00" stroke="#111" stroke-width="1.15" />
<line x1="1208.00" y1="185.00" x2="1208.00" y2="291.00" stroke="#111" stroke-width="1.15" />
<line x1="1408.50" y1="185.00" x2="1408.50" y2="291.00" stroke="#111" stroke-width="1.15" />
<line x1="1486.60" y1="185.00" x2="1486.60" y2="243.00" stroke="#111" stroke-width="1.15" />
<path d="M1223.20 190.10 L1208.00 195.00 L1223.20 199.90" stroke="#000" stroke-width="2.3" fill="none" stroke-linejoin="round" stroke-linecap="round"/>
<path d="M1393.30 199.90 L1408.50 195.00 L1393.30 190.10" stroke="#000" stroke-width="2.3" fill="none" stroke-linejoin="round" stroke-linecap="round"/>
<path d="M1423.70 190.10 L1408.50 195.00 L1423.70 199.90" stroke="#000" stroke-width="2.3" fill="none" stroke-linejoin="round" stroke-linecap="round"/>
<path d="M1471.40 199.90 L1486.60 195.00 L1471.40 190.10" stroke="#000" stroke-width="2.3" fill="none" stroke-linejoin="round" stroke-linecap="round"/>
<text transform="translate(1292.50,189.00) scale(0.9326,1)" font-family='"IPAGothic","Liberation Mono",monospace' font-size="19.3" stroke="#000" stroke-width="0.22" >95</text>
<text transform="translate(1438.50,189.00) scale(0.9326,1)" font-family='"IPAGothic","Liberation Mono",monospace' font-size="19.3" stroke="#000" stroke-width="0.22" >37</text>
<rect x="1129.30" y="249.40" width="357.70" height="188.90" stroke="#000" stroke-width="1.7" fill="none"/>
<line x1="1129.30" y1="249.20" x2="1487.00" y2="249.20" stroke="#000" stroke-width="2.4" />
<path d="M1149 438 V446.5 Q1149 451.3 1153.8 451.3 H1177 Q1181.8 451.3 1181.8 446.5 V438" stroke="#000" stroke-width="1.3" fill="none" />
<path d="M1434.6 438 V446.5 Q1434.6 451.3 1439.3999999999999 451.3 H1462.6 Q1467.3999999999999 451.3 1467.3999999999999 446.5 V438" stroke="#000" stroke-width="1.3" fill="none" />
<rect x="1175.90" y="274.90" width="63.80" height="137.90" stroke="#000" stroke-width="1.7" fill="#fff"/>
<circle cx="1186.90" cy="285.40" r="6.10" stroke="#000" stroke-width="2.7" fill="none"/>
<circle cx="1186.90" cy="285.40" r="2.50" stroke="none" stroke-width="0" fill="#000"/>
<line x1="1183.60" y1="285.40" x2="1190.20" y2="285.40" stroke="#000" stroke-width="1.5" />
<line x1="1186.90" y1="282.10" x2="1186.90" y2="288.70" stroke="#000" stroke-width="1.5" />
<circle cx="1186.80" cy="401.50" r="6.10" stroke="#000" stroke-width="2.7" fill="none"/>
<circle cx="1186.80" cy="401.50" r="2.50" stroke="none" stroke-width="0" fill="#000"/>
<line x1="1183.50" y1="401.50" x2="1190.10" y2="401.50" stroke="#000" stroke-width="1.5" />
<line x1="1186.80" y1="398.20" x2="1186.80" y2="404.80" stroke="#000" stroke-width="1.5" />
<path d="M1178.80 298.80 L1202.80 295.50 L1203.60 297.90 L1179.40 301.30 Z" stroke="#000" stroke-width="1.2" fill="#fff" stroke-linejoin="round" stroke-linecap="round"/>
<path d="M1178.80 301.20 L1190.70 301.20 L1190.70 310.70 L1178.80 310.70 Z" stroke="#000" stroke-width="0.8" fill="#000" stroke-linejoin="round" stroke-linecap="round"/>
<path d="M1182.80 302.60 L1188.80 302.60 L1188.80 305.80 L1182.80 305.80 Z" stroke="none" stroke-width="0" fill="#fff" stroke-linejoin="round" stroke-linecap="round"/>
<path d="M1190.70 306.10 L1203.40 306.10 L1203.40 310.30 L1190.70 310.30 Z" stroke="#000" stroke-width="1.4" fill="#fff" stroke-linejoin="round" stroke-linecap="round"/>
<path d="M1190.80 303.30 L1208.00 298.20 L1208.00 300.70 L1191.00 305.90 Z" stroke="#000" stroke-width="1.2" fill="#fff" stroke-linejoin="round" stroke-linecap="round"/>
<path d="M1180.80 375.80 L1198.50 375.80 L1198.50 385.80 L1196.00 385.80 L1196.00 384.40 L1180.80 384.40 Z" stroke="#000" stroke-width="1.2" fill="#fff" stroke-linejoin="round" stroke-linecap="round"/>
<line x1="1180.80" y1="377.20" x2="1198.50" y2="377.20" stroke="#000" stroke-width="2.6" />
<line x1="1180.80" y1="380.60" x2="1198.50" y2="380.60" stroke="#000" stroke-width="1.0" />
<circle cx="1229.10" cy="285.40" r="6.10" stroke="#000" stroke-width="2.7" fill="none"/>
<circle cx="1229.10" cy="285.40" r="2.50" stroke="none" stroke-width="0" fill="#000"/>
<line x1="1225.80" y1="285.40" x2="1232.40" y2="285.40" stroke="#000" stroke-width="1.5" />
<line x1="1229.10" y1="282.10" x2="1229.10" y2="288.70" stroke="#000" stroke-width="1.5" />
<circle cx="1229.20" cy="401.50" r="6.10" stroke="#000" stroke-width="2.7" fill="none"/>
<circle cx="1229.20" cy="401.50" r="2.50" stroke="none" stroke-width="0" fill="#000"/>
<line x1="1225.90" y1="401.50" x2="1232.50" y2="401.50" stroke="#000" stroke-width="1.5" />
<line x1="1229.20" y1="398.20" x2="1229.20" y2="404.80" stroke="#000" stroke-width="1.5" />
<path d="M1237.20 298.80 L1213.20 295.50 L1212.40 297.90 L1236.60 301.30 Z" stroke="#000" stroke-width="1.2" fill="#fff" stroke-linejoin="round" stroke-linecap="round"/>
<path d="M1237.20 301.20 L1225.30 301.20 L1225.30 310.70 L1237.20 310.70 Z" stroke="#000" stroke-width="0.8" fill="#000" stroke-linejoin="round" stroke-linecap="round"/>
<path d="M1233.20 302.60 L1227.20 302.60 L1227.20 305.80 L1233.20 305.80 Z" stroke="none" stroke-width="0" fill="#fff" stroke-linejoin="round" stroke-linecap="round"/>
<path d="M1225.30 306.10 L1212.60 306.10 L1212.60 310.30 L1225.30 310.30 Z" stroke="#000" stroke-width="1.4" fill="#fff" stroke-linejoin="round" stroke-linecap="round"/>
<path d="M1225.20 303.30 L1208.00 298.20 L1208.00 300.70 L1225.00 305.90 Z" stroke="#000" stroke-width="1.2" fill="#fff" stroke-linejoin="round" stroke-linecap="round"/>
<path d="M1235.20 375.80 L1217.50 375.80 L1217.50 385.80 L1220.00 385.80 L1220.00 384.40 L1235.20 384.40 Z" stroke="#000" stroke-width="1.2" fill="#fff" stroke-linejoin="round" stroke-linecap="round"/>
<line x1="1235.20" y1="377.20" x2="1217.50" y2="377.20" stroke="#000" stroke-width="2.6" />
<line x1="1235.20" y1="380.60" x2="1217.50" y2="380.60" stroke="#000" stroke-width="1.0" />
<rect x="1193.00" y="321.60" width="30.00" height="43.60" stroke="#000" stroke-width="2.0" fill="none"/>
<line x1="1193.00" y1="325.80" x2="1223.00" y2="325.80" stroke="#000" stroke-width="1.6" />
<line x1="1193.00" y1="330.50" x2="1223.00" y2="330.50" stroke="#000" stroke-width="1.6" />
<line x1="1193.00" y1="344.40" x2="1223.00" y2="344.40" stroke="#000" stroke-width="1.5" />
<line x1="1193.00" y1="356.50" x2="1223.00" y2="356.50" stroke="#000" stroke-width="1.6" />
<line x1="1193.00" y1="361.40" x2="1223.00" y2="361.40" stroke="#000" stroke-width="1.6" />
<rect x="1194.60" y="387.20" width="26.20" height="8.40" stroke="#000" stroke-width="1.0" fill="#000" rx="1.5" ry="1.5"/>
<rect x="1376.60" y="274.90" width="63.80" height="137.90" stroke="#000" stroke-width="1.7" fill="#fff"/>
<circle cx="1387.60" cy="285.40" r="6.10" stroke="#000" stroke-width="2.7" fill="none"/>
<circle cx="1387.60" cy="285.40" r="2.50" stroke="none" stroke-width="0" fill="#000"/>
<line x1="1384.30" y1="285.40" x2="1390.90" y2="285.40" stroke="#000" stroke-width="1.5" />
<line x1="1387.60" y1="282.10" x2="1387.60" y2="288.70" stroke="#000" stroke-width="1.5" />
<circle cx="1387.50" cy="401.50" r="6.10" stroke="#000" stroke-width="2.7" fill="none"/>
<circle cx="1387.50" cy="401.50" r="2.50" stroke="none" stroke-width="0" fill="#000"/>
<line x1="1384.20" y1="401.50" x2="1390.80" y2="401.50" stroke="#000" stroke-width="1.5" />
<line x1="1387.50" y1="398.20" x2="1387.50" y2="404.80" stroke="#000" stroke-width="1.5" />
<path d="M1379.50 298.80 L1403.50 295.50 L1404.30 297.90 L1380.10 301.30 Z" stroke="#000" stroke-width="1.2" fill="#fff" stroke-linejoin="round" stroke-linecap="round"/>
<path d="M1379.50 301.20 L1391.40 301.20 L1391.40 310.70 L1379.50 310.70 Z" stroke="#000" stroke-width="0.8" fill="#000" stroke-linejoin="round" stroke-linecap="round"/>
<path d="M1383.50 302.60 L1389.50 302.60 L1389.50 305.80 L1383.50 305.80 Z" stroke="none" stroke-width="0" fill="#fff" stroke-linejoin="round" stroke-linecap="round"/>
<path d="M1391.40 306.10 L1404.10 306.10 L1404.10 310.30 L1391.40 310.30 Z" stroke="#000" stroke-width="1.4" fill="#fff" stroke-linejoin="round" stroke-linecap="round"/>
<path d="M1391.50 303.30 L1408.70 298.20 L1408.70 300.70 L1391.70 305.90 Z" stroke="#000" stroke-width="1.2" fill="#fff" stroke-linejoin="round" stroke-linecap="round"/>
<path d="M1381.50 375.80 L1399.20 375.80 L1399.20 385.80 L1396.70 385.80 L1396.70 384.40 L1381.50 384.40 Z" stroke="#000" stroke-width="1.2" fill="#fff" stroke-linejoin="round" stroke-linecap="round"/>
<line x1="1381.50" y1="377.20" x2="1399.20" y2="377.20" stroke="#000" stroke-width="2.6" />
<line x1="1381.50" y1="380.60" x2="1399.20" y2="380.60" stroke="#000" stroke-width="1.0" />
<circle cx="1429.80" cy="285.40" r="6.10" stroke="#000" stroke-width="2.7" fill="none"/>
<circle cx="1429.80" cy="285.40" r="2.50" stroke="none" stroke-width="0" fill="#000"/>
<line x1="1426.50" y1="285.40" x2="1433.10" y2="285.40" stroke="#000" stroke-width="1.5" />
<line x1="1429.80" y1="282.10" x2="1429.80" y2="288.70" stroke="#000" stroke-width="1.5" />
<circle cx="1429.90" cy="401.50" r="6.10" stroke="#000" stroke-width="2.7" fill="none"/>
<circle cx="1429.90" cy="401.50" r="2.50" stroke="none" stroke-width="0" fill="#000"/>
<line x1="1426.60" y1="401.50" x2="1433.20" y2="401.50" stroke="#000" stroke-width="1.5" />
<line x1="1429.90" y1="398.20" x2="1429.90" y2="404.80" stroke="#000" stroke-width="1.5" />
<path d="M1437.90 298.80 L1413.90 295.50 L1413.10 297.90 L1437.30 301.30 Z" stroke="#000" stroke-width="1.2" fill="#fff" stroke-linejoin="round" stroke-linecap="round"/>
<path d="M1437.90 301.20 L1426.00 301.20 L1426.00 310.70 L1437.90 310.70 Z" stroke="#000" stroke-width="0.8" fill="#000" stroke-linejoin="round" stroke-linecap="round"/>
<path d="M1433.90 302.60 L1427.90 302.60 L1427.90 305.80 L1433.90 305.80 Z" stroke="none" stroke-width="0" fill="#fff" stroke-linejoin="round" stroke-linecap="round"/>
<path d="M1426.00 306.10 L1413.30 306.10 L1413.30 310.30 L1426.00 310.30 Z" stroke="#000" stroke-width="1.4" fill="#fff" stroke-linejoin="round" stroke-linecap="round"/>
<path d="M1425.90 303.30 L1408.70 298.20 L1408.70 300.70 L1425.70 305.90 Z" stroke="#000" stroke-width="1.2" fill="#fff" stroke-linejoin="round" stroke-linecap="round"/>
<path d="M1435.90 375.80 L1418.20 375.80 L1418.20 385.80 L1420.70 385.80 L1420.70 384.40 L1435.90 384.40 Z" stroke="#000" stroke-width="1.2" fill="#fff" stroke-linejoin="round" stroke-linecap="round"/>
<line x1="1435.90" y1="377.20" x2="1418.20" y2="377.20" stroke="#000" stroke-width="2.6" />
<line x1="1435.90" y1="380.60" x2="1418.20" y2="380.60" stroke="#000" stroke-width="1.0" />
<rect x="1393.70" y="321.60" width="30.00" height="43.60" stroke="#000" stroke-width="2.0" fill="none"/>
<line x1="1393.70" y1="325.80" x2="1423.70" y2="325.80" stroke="#000" stroke-width="1.6" />
<line x1="1393.70" y1="330.50" x2="1423.70" y2="330.50" stroke="#000" stroke-width="1.6" />
<line x1="1393.70" y1="344.40" x2="1423.70" y2="344.40" stroke="#000" stroke-width="1.5" />
<line x1="1393.70" y1="356.50" x2="1423.70" y2="356.50" stroke="#000" stroke-width="1.6" />
<line x1="1393.70" y1="361.40" x2="1423.70" y2="361.40" stroke="#000" stroke-width="1.6" />
<rect x="1395.30" y="387.20" width="26.20" height="8.40" stroke="#000" stroke-width="1.0" fill="#000" rx="1.5" ry="1.5"/>
<path d="M1148.6 249.5 V253.6 Q1149.2 254.8 1149.9 253.6 V249.5" stroke="#000" stroke-width="1.2" fill="none" />
<path d="M1463.9 249.5 V254.4 H1465.3 V249.5" stroke="#000" stroke-width="1.2" fill="none" />
<path d="M1487 249.6 Q1490.6 258.0 1487 266.4 Z" stroke="#000" stroke-width="1.2" fill="#000" />
<path d="M1487 302.5 Q1490.6 309.55 1487 316.6 Z" stroke="#000" stroke-width="1.2" fill="#000" />
<path d="M1487 335.4 Q1490.6 343.2 1487 351 Z" stroke="#000" stroke-width="1.2" fill="#000" />
<path d="M1487 370 Q1490.6 377.85 1487 385.7 Z" stroke="#000" stroke-width="1.2" fill="#000" />
<path d="M1487 398 Q1490.6 405.0 1487 412 Z" stroke="#000" stroke-width="1.2" fill="#000" />
<path d="M1487 417 Q1490.6 424.85 1487 432.7 Z" stroke="#000" stroke-width="1.2" fill="#000" />
<path d="M1129.3 252 Q1126.6 258.5 1129.3 265 Z" stroke="#000" stroke-width="1.0" fill="#000" />
<path d="M1129.3 337 Q1126.6 343.3 1129.3 349.6 Z" stroke="#000" stroke-width="1.0" fill="#000" />
<line x1="1479.00" y1="395.20" x2="1487.00" y2="395.20" stroke="#000" stroke-width="1.4" />
<line x1="1479.00" y1="417.40" x2="1487.00" y2="417.40" stroke="#000" stroke-width="1.4" />
<line x1="1208.00" y1="274.00" x2="1208.00" y2="291.60" stroke="#111" stroke-width="1.15" />
<line x1="1408.50" y1="274.00" x2="1408.50" y2="291.60" stroke="#111" stroke-width="1.15" />
<text transform="translate(1290.50,599.50) scale(0.9419,1)" font-family='"IPAGothic","Liberation Mono",monospace' font-size="21.5" stroke="#000" stroke-width="0.22" >Rear</text>
<line x1="1290.00" y1="600.60" x2="1331.00" y2="600.60" stroke="#000" stroke-width="1.5" />
<g transform="translate(1445.70,-117.20)">
<path d="M254.3 266.2 V296.5 Q254.3 299.7 257.5 299.7 H328.2 Q331.4 299.7 331.4 296.5 V266.2 Q331.4 263 328.2 263 H313 M294 263 H273.2 M262 263 H257.5 Q254.3 263 254.3 266.2" stroke="#000" stroke-width="1.1" fill="none" />
<text x="267.60" y="265.60" font-family='"Liberation Sans",sans-serif' font-size="7.92" font-weight="bold" text-anchor="middle" textLength="9.4" lengthAdjust="spacingAndGlyphs"  stroke="#000" stroke-width="0.32">CH</text>
<text x="303.50" y="265.60" font-family='"Liberation Sans",sans-serif' font-size="7.92" font-weight="bold" text-anchor="middle" textLength="17.0" lengthAdjust="spacingAndGlyphs"  stroke="#000" stroke-width="0.32">DATA</text>
<rect x="259.30" y="269.30" width="15.50" height="24.30" stroke="#333" stroke-width="1" fill="none"/>
<rect x="260.60" y="270.50" width="13.00" height="21.90" stroke="#999" stroke-width="0.6" fill="none"/>
<rect x="280.00" y="269.30" width="45.80" height="24.30" stroke="#333" stroke-width="1" fill="none"/>
<rect x="281.30" y="270.50" width="43.30" height="21.90" stroke="#999" stroke-width="0.6" fill="none"/>
<text transform="translate(260.90,290.20) skewX(-7) scale(0.80,1)" font-family='"Liberation Sans",sans-serif' font-size="24.6" font-weight="bold" stroke="#000" stroke-width="0.5">8</text>
<circle cx="272.20" cy="289.50" r="1.00" stroke="#000" stroke-width="0" fill="#000"/>
<text transform="translate(281.90,290.20) skewX(-7) scale(0.80,1)" font-family='"Liberation Sans",sans-serif' font-size="24.6" font-weight="bold" stroke="#000" stroke-width="0.5">8</text>
<circle cx="293.20" cy="289.50" r="1.00" stroke="#000" stroke-width="0" fill="#000"/>
<text transform="translate(296.60,290.20) skewX(-7) scale(0.80,1)" font-family='"Liberation Sans",sans-serif' font-size="24.6" font-weight="bold" stroke="#000" stroke-width="0.5">8</text>
<circle cx="307.90" cy="289.50" r="1.00" stroke="#000" stroke-width="0" fill="#000"/>
<text transform="translate(311.20,290.20) skewX(-7) scale(0.80,1)" font-family='"Liberation Sans",sans-serif' font-size="24.6" font-weight="bold" stroke="#000" stroke-width="0.5">8</text>
<circle cx="322.50" cy="289.50" r="1.00" stroke="#000" stroke-width="0" fill="#000"/>
</g>
<g transform="translate(1445.70,-117.20)">
<circle cx="355.70" cy="281.30" r="14.60" stroke="#000" stroke-width="1.3" fill="none"/>
<circle cx="355.70" cy="281.30" r="12.60" stroke="#222" stroke-width="1.0" fill="none"/>
<path d="M340.69 267.78 A20.2 20.2 0 0 1 370.71 267.78" stroke="#000" stroke-width="1.7" fill="none" />
<path d="M354.10 267.70 L357.30 267.70 L355.70 270.30 Z" stroke="#000" stroke-width="0.6" fill="#000" stroke-linejoin="round" stroke-linecap="round"/>
<text x="374.00" y="280.50" font-family='"Liberation Sans",sans-serif' font-size="6.48" font-weight="bold" text-anchor="start" textLength="17.4" lengthAdjust="spacingAndGlyphs"  stroke="#000" stroke-width="0.32">PUSH/</text>
<text x="374.00" y="287.00" font-family='"Liberation Sans",sans-serif' font-size="6.48" font-weight="bold" text-anchor="start" textLength="25.6" lengthAdjust="spacingAndGlyphs"  stroke="#000" stroke-width="0.32">CONTROL</text>
</g>
<g transform="translate(1445.70,-117.20)">
<path d="M252.1 315.6 V330 Q252.1 333 255.1 333 H285.1 Q288.1 333 288.1 330 V315.6 Q288.1 312.6 285.1 312.6 H277.4 M257.6 312.6 H255.1 Q252.1 312.6 252.1 315.6" stroke="#000" stroke-width="1.1" fill="none" />
<text x="267.50" y="315.20" font-family='"Liberation Sans",sans-serif' font-size="8.64" font-weight="bold" text-anchor="middle" textLength="18.2" lengthAdjust="spacingAndGlyphs"  stroke="#000" stroke-width="0.32">MODE</text>
<text x="275.40" y="322.60" font-family='"Liberation Sans",sans-serif' font-size="7.68" font-weight="bold" text-anchor="end" textLength="18.4" lengthAdjust="spacingAndGlyphs"  stroke="#000" stroke-width="0.32">LOCAL</text>
<text x="275.40" y="329.40" font-family='"Liberation Sans",sans-serif' font-size="7.68" font-weight="bold" text-anchor="end" textLength="22.0" lengthAdjust="spacingAndGlyphs"  stroke="#000" stroke-width="0.32">REMOTE</text>
<rect x="276.00" y="317.30" width="7.80" height="6.30" stroke="#000" stroke-width="0.8" fill="#000"/>
<rect x="276.30" y="323.90" width="7.20" height="5.70" stroke="#000" stroke-width="1.0" fill="#fff"/>
</g>
<g transform="translate(1445.70,-117.20)">
<circle cx="262.70" cy="346.40" r="1.90" stroke="#000" stroke-width="0.9" fill="none"/>
<rect x="254.30" y="350.30" width="17.30" height="6.00" stroke="#000" stroke-width="0.8" fill="none" rx="1" ry="1"/>
<text x="263.00" y="355.20" font-family='"Liberation Sans",sans-serif' font-size="5.76" font-weight="bold" text-anchor="middle" textLength="14.4" lengthAdjust="spacingAndGlyphs"  stroke="#000" stroke-width="0.32">RESET</text>
</g>
<g transform="translate(1445.70,-117.20)">
<path d="M334.6 323.9 V424.1 Q334.6 427.3 337.8 427.3 H363.0 Q366.2 427.3 366.2 424.1 V323.9 Q366.2 320.7 363.0 320.7 H358.2 M343.2 320.7 H337.8 Q334.6 320.7 334.6 323.9" stroke="#000" stroke-width="1.1" fill="none" />
<text x="350.70" y="323.60" font-family='"Liberation Sans",sans-serif' font-size="7.92" font-weight="bold" text-anchor="middle" textLength="13.4" lengthAdjust="spacingAndGlyphs"  stroke="#000" stroke-width="0.32">CN1</text>
</g>
<g transform="translate(1445.70,-117.20)">
<rect x="340.20" y="327.10" width="20.60" height="97.90" stroke="#000" stroke-width="1.5" fill="none"/>
<rect x="341.80" y="328.70" width="17.40" height="95.10" stroke="#555" stroke-width="0.7" fill="none"/>
<line x1="340.20" y1="334.80" x2="360.80" y2="334.80" stroke="#000" stroke-width="1.0" />
<line x1="341.70" y1="340.10" x2="359.30" y2="340.10" stroke="#8a8a8a" stroke-width="1.8" />
<line x1="340.20" y1="346.80" x2="360.80" y2="346.80" stroke="#000" stroke-width="1.0" />
<rect x="342.30" y="348.50" width="16.20" height="54.00" stroke="#222" stroke-width="0.8" fill="none"/>
<line x1="357.20" y1="348.50" x2="357.20" y2="402.50" stroke="#8a8a8a" stroke-width="1.4" />
<line x1="343.40" y1="348.50" x2="343.40" y2="402.50" stroke="#777" stroke-width="0.7" />
<rect x="347.50" y="350.80" width="1.60" height="1.60" stroke="none" stroke-width="0" fill="#000"/>
<rect x="351.70" y="350.80" width="1.60" height="1.60" stroke="none" stroke-width="0" fill="#000"/>
<rect x="347.50" y="356.11" width="1.60" height="1.60" stroke="none" stroke-width="0" fill="#000"/>
<rect x="351.70" y="356.11" width="1.60" height="1.60" stroke="none" stroke-width="0" fill="#000"/>
<rect x="347.50" y="361.42" width="1.60" height="1.60" stroke="none" stroke-width="0" fill="#000"/>
<rect x="351.70" y="361.42" width="1.60" height="1.60" stroke="none" stroke-width="0" fill="#000"/>
<rect x="347.50" y="366.73" width="1.60" height="1.60" stroke="none" stroke-width="0" fill="#000"/>
<rect x="351.70" y="366.73" width="1.60" height="1.60" stroke="none" stroke-width="0" fill="#000"/>
<rect x="347.50" y="372.04" width="1.60" height="1.60" stroke="none" stroke-width="0" fill="#000"/>
<rect x="351.70" y="372.04" width="1.60" height="1.60" stroke="none" stroke-width="0" fill="#000"/>
<rect x="347.50" y="377.36" width="1.60" height="1.60" stroke="none" stroke-width="0" fill="#000"/>
<rect x="351.70" y="377.36" width="1.60" height="1.60" stroke="none" stroke-width="0" fill="#000"/>
<rect x="347.50" y="382.67" width="1.60" height="1.60" stroke="none" stroke-width="0" fill="#000"/>
<rect x="351.70" y="382.67" width="1.60" height="1.60" stroke="none" stroke-width="0" fill="#000"/>
<rect x="347.50" y="387.98" width="1.60" height="1.60" stroke="none" stroke-width="0" fill="#000"/>
<rect x="351.70" y="387.98" width="1.60" height="1.60" stroke="none" stroke-width="0" fill="#000"/>
<rect x="347.50" y="393.29" width="1.60" height="1.60" stroke="none" stroke-width="0" fill="#000"/>
<rect x="351.70" y="393.29" width="1.60" height="1.60" stroke="none" stroke-width="0" fill="#000"/>
<rect x="347.50" y="398.60" width="1.60" height="1.60" stroke="none" stroke-width="0" fill="#000"/>
<rect x="351.70" y="398.60" width="1.60" height="1.60" stroke="none" stroke-width="0" fill="#000"/>
<rect x="340.20" y="371.60" width="2.10" height="7.90" stroke="#000" stroke-width="0.8" fill="#fff"/>
<line x1="340.20" y1="403.80" x2="360.80" y2="403.80" stroke="#000" stroke-width="1.0" />
<line x1="341.70" y1="411.00" x2="359.30" y2="411.00" stroke="#8a8a8a" stroke-width="1.8" />
<line x1="340.20" y1="416.50" x2="360.80" y2="416.50" stroke="#000" stroke-width="1.0" />
<line x1="340.20" y1="422.20" x2="360.80" y2="422.20" stroke="#000" stroke-width="1.0" />
</g>
<g transform="translate(0.00,0.00)">
<g transform="translate(0.00,0.00)">
<path d="M1723.4 244.0 V271.3 Q1723.4 274.5 1726.6000000000001 274.5 H1763.3 Q1766.5 274.5 1766.5 271.3 V244.0 Q1766.5 240.8 1763.3 240.8 H1762.4 M1729.6 240.8 H1726.6000000000001 Q1723.4 240.8 1723.4 244.0" stroke="#000" stroke-width="1.1" fill="none" />
<text x="1746" y="244.6" font-family='"Liberation Mono",monospace' font-size="7.6" font-weight="bold" text-anchor="middle" textLength="31" lengthAdjust="spacingAndGlyphs" stroke="#000" stroke-width="0.2">RS-232C</text>
<circle cx="1745.10" cy="259.20" r="9.80" stroke="#000" stroke-width="1.2" fill="none"/>
<circle cx="1745.10" cy="259.20" r="7.90" stroke="#333" stroke-width="0.9" fill="none"/>
<circle cx="1745.10" cy="259.20" r="5.40" stroke="#000" stroke-width="1.7" fill="none"/>
<rect x="1743.60" y="248.00" width="3.00" height="1.80" stroke="#000" stroke-width="0.8" fill="#fff"/>
</g>
</g>
<g transform="translate(1446.50,187.10)">
<path d="M254.3 266.2 V296.5 Q254.3 299.7 257.5 299.7 H328.2 Q331.4 299.7 331.4 296.5 V266.2 Q331.4 263 328.2 263 H313 M294 263 H273.2 M262 263 H257.5 Q254.3 263 254.3 266.2" stroke="#000" stroke-width="1.1" fill="none" />
<text x="267.60" y="265.60" font-family='"Liberation Sans",sans-serif' font-size="7.92" font-weight="bold" text-anchor="middle" textLength="9.4" lengthAdjust="spacingAndGlyphs"  stroke="#000" stroke-width="0.32">CH</text>
<text x="303.50" y="265.60" font-family='"Liberation Sans",sans-serif' font-size="7.92" font-weight="bold" text-anchor="middle" textLength="17.0" lengthAdjust="spacingAndGlyphs"  stroke="#000" stroke-width="0.32">DATA</text>
<rect x="259.30" y="269.30" width="15.50" height="24.30" stroke="#333" stroke-width="1" fill="none"/>
<rect x="260.60" y="270.50" width="13.00" height="21.90" stroke="#999" stroke-width="0.6" fill="none"/>
<rect x="280.00" y="269.30" width="45.80" height="24.30" stroke="#333" stroke-width="1" fill="none"/>
<rect x="281.30" y="270.50" width="43.30" height="21.90" stroke="#999" stroke-width="0.6" fill="none"/>
<text transform="translate(260.90,290.20) skewX(-7) scale(0.80,1)" font-family='"Liberation Sans",sans-serif' font-size="24.6" font-weight="bold" stroke="#000" stroke-width="0.5">8</text>
<circle cx="272.20" cy="289.50" r="1.00" stroke="#000" stroke-width="0" fill="#000"/>
<text transform="translate(281.90,290.20) skewX(-7) scale(0.80,1)" font-family='"Liberation Sans",sans-serif' font-size="24.6" font-weight="bold" stroke="#000" stroke-width="0.5">8</text>
<circle cx="293.20" cy="289.50" r="1.00" stroke="#000" stroke-width="0" fill="#000"/>
<text transform="translate(296.60,290.20) skewX(-7) scale(0.80,1)" font-family='"Liberation Sans",sans-serif' font-size="24.6" font-weight="bold" stroke="#000" stroke-width="0.5">8</text>
<circle cx="307.90" cy="289.50" r="1.00" stroke="#000" stroke-width="0" fill="#000"/>
<text transform="translate(311.20,290.20) skewX(-7) scale(0.80,1)" font-family='"Liberation Sans",sans-serif' font-size="24.6" font-weight="bold" stroke="#000" stroke-width="0.5">8</text>
<circle cx="322.50" cy="289.50" r="1.00" stroke="#000" stroke-width="0" fill="#000"/>
</g>
<g transform="translate(1446.50,187.10)">
<circle cx="355.70" cy="281.30" r="14.60" stroke="#000" stroke-width="1.3" fill="none"/>
<circle cx="355.70" cy="281.30" r="12.60" stroke="#222" stroke-width="1.0" fill="none"/>
<path d="M340.69 267.78 A20.2 20.2 0 0 1 370.71 267.78" stroke="#000" stroke-width="1.7" fill="none" />
<path d="M354.10 267.70 L357.30 267.70 L355.70 270.30 Z" stroke="#000" stroke-width="0.6" fill="#000" stroke-linejoin="round" stroke-linecap="round"/>
<text x="374.00" y="280.50" font-family='"Liberation Sans",sans-serif' font-size="6.48" font-weight="bold" text-anchor="start" textLength="17.4" lengthAdjust="spacingAndGlyphs"  stroke="#000" stroke-width="0.32">PUSH/</text>
<text x="374.00" y="287.00" font-family='"Liberation Sans",sans-serif' font-size="6.48" font-weight="bold" text-anchor="start" textLength="25.6" lengthAdjust="spacingAndGlyphs"  stroke="#000" stroke-width="0.32">CONTROL</text>
</g>
<g transform="translate(1446.50,187.10)">
<path d="M252.1 315.6 V330 Q252.1 333 255.1 333 H318 Q321 333 321 330 V315.6 Q321 312.6 318 312.6 H277.4 M257.6 312.6 H255.1 Q252.1 312.6 252.1 315.6" stroke="#000" stroke-width="1.1" fill="none" />
<text x="267.50" y="315.20" font-family='"Liberation Sans",sans-serif' font-size="8.64" font-weight="bold" text-anchor="middle" textLength="18.2" lengthAdjust="spacingAndGlyphs"  stroke="#000" stroke-width="0.32">MODE</text>
<text x="275.40" y="322.60" font-family='"Liberation Sans",sans-serif' font-size="7.68" font-weight="bold" text-anchor="end" textLength="18.4" lengthAdjust="spacingAndGlyphs"  stroke="#000" stroke-width="0.32">LOCAL</text>
<text x="275.40" y="329.40" font-family='"Liberation Sans",sans-serif' font-size="7.68" font-weight="bold" text-anchor="end" textLength="22.0" lengthAdjust="spacingAndGlyphs"  stroke="#000" stroke-width="0.32">REMOTE</text>
<rect x="276.00" y="317.30" width="7.80" height="6.30" stroke="#000" stroke-width="0.8" fill="#000"/>
<rect x="276.30" y="323.90" width="7.20" height="5.70" stroke="#000" stroke-width="1.0" fill="#fff"/>
<path d="M286.8 327.2 H290.4 L291.8 323.9 H296" stroke="#000" stroke-width="0.9" fill="none" />
<rect x="298.50" y="317.30" width="7.80" height="6.30" stroke="#000" stroke-width="0.8" fill="#000"/>
<rect x="298.80" y="323.90" width="7.20" height="5.70" stroke="#000" stroke-width="1.0" fill="#fff"/>
<text x="309.60" y="322.80" font-family='"Liberation Sans",sans-serif' font-size="6.72" font-weight="bold" text-anchor="start" textLength="4.6" lengthAdjust="spacingAndGlyphs"  stroke="#000" stroke-width="0.32">PI</text>
<text x="309.60" y="329.20" font-family='"Liberation Sans",sans-serif' font-size="6.72" font-weight="bold" text-anchor="start" textLength="4.6" lengthAdjust="spacingAndGlyphs"  stroke="#000" stroke-width="0.32">VI</text>
</g>
<g transform="translate(1446.50,187.70)">
<circle cx="262.70" cy="346.40" r="1.90" stroke="#000" stroke-width="0.9" fill="none"/>
<rect x="254.30" y="350.30" width="17.30" height="6.00" stroke="#000" stroke-width="0.8" fill="none" rx="1" ry="1"/>
<text x="263.00" y="355.20" font-family='"Liberation Sans",sans-serif' font-size="5.76" font-weight="bold" text-anchor="middle" textLength="14.4" lengthAdjust="spacingAndGlyphs"  stroke="#000" stroke-width="0.32">RESET</text>
</g>
<path d="M1781.8 512.2 V611.1 Q1781.8 614.3 1785 614.3 H1829.4 Q1832.6 614.3 1832.6 611.1 V496 Q1832.6 492.8 1829.4 492.8 H1825.4 M1809.6 492.8 H1808.6 Q1806 492.8 1806 496 V509 M1805 509 H1804.6 M1790 509 H1785 Q1781.8 509 1781.8 512.2" stroke="#000" stroke-width="1.1" fill="none" />
<text x="1797.40" y="512.00" font-family='"Liberation Sans",sans-serif' font-size="7.92" font-weight="bold" text-anchor="middle" textLength="13.4" lengthAdjust="spacingAndGlyphs"  stroke="#000" stroke-width="0.32">CN1</text>
<text x="1817.50" y="495.80" font-family='"Liberation Sans",sans-serif' font-size="7.92" font-weight="bold" text-anchor="middle" textLength="13.6" lengthAdjust="spacingAndGlyphs"  stroke="#000" stroke-width="0.32">CN2</text>
<g transform="translate(0.00,0.00)">
<rect x="1786.40" y="515.20" width="20.60" height="97.00" stroke="#000" stroke-width="1.5" fill="none"/>
<rect x="1788.00" y="516.80" width="17.40" height="94.20" stroke="#555" stroke-width="0.7" fill="none"/>
<line x1="1786.40" y1="522.90" x2="1807.00" y2="522.90" stroke="#000" stroke-width="1.0" />
<line x1="1787.90" y1="528.20" x2="1805.50" y2="528.20" stroke="#8a8a8a" stroke-width="1.8" />
<line x1="1786.40" y1="534.90" x2="1807.00" y2="534.90" stroke="#000" stroke-width="1.0" />
<rect x="1788.50" y="536.60" width="16.20" height="53.10" stroke="#222" stroke-width="0.8" fill="none"/>
<line x1="1803.40" y1="536.60" x2="1803.40" y2="589.70" stroke="#8a8a8a" stroke-width="1.4" />
<line x1="1789.60" y1="536.60" x2="1789.60" y2="589.70" stroke="#777" stroke-width="0.7" />
<rect x="1793.70" y="538.90" width="1.60" height="1.60" stroke="none" stroke-width="0" fill="#000"/>
<rect x="1797.90" y="538.90" width="1.60" height="1.60" stroke="none" stroke-width="0" fill="#000"/>
<rect x="1793.70" y="544.11" width="1.60" height="1.60" stroke="none" stroke-width="0" fill="#000"/>
<rect x="1797.90" y="544.11" width="1.60" height="1.60" stroke="none" stroke-width="0" fill="#000"/>
<rect x="1793.70" y="549.32" width="1.60" height="1.60" stroke="none" stroke-width="0" fill="#000"/>
<rect x="1797.90" y="549.32" width="1.60" height="1.60" stroke="none" stroke-width="0" fill="#000"/>
<rect x="1793.70" y="554.53" width="1.60" height="1.60" stroke="none" stroke-width="0" fill="#000"/>
<rect x="1797.90" y="554.53" width="1.60" height="1.60" stroke="none" stroke-width="0" fill="#000"/>
<rect x="1793.70" y="559.74" width="1.60" height="1.60" stroke="none" stroke-width="0" fill="#000"/>
<rect x="1797.90" y="559.74" width="1.60" height="1.60" stroke="none" stroke-width="0" fill="#000"/>
<rect x="1793.70" y="564.96" width="1.60" height="1.60" stroke="none" stroke-width="0" fill="#000"/>
<rect x="1797.90" y="564.96" width="1.60" height="1.60" stroke="none" stroke-width="0" fill="#000"/>
<rect x="1793.70" y="570.17" width="1.60" height="1.60" stroke="none" stroke-width="0" fill="#000"/>
<rect x="1797.90" y="570.17" width="1.60" height="1.60" stroke="none" stroke-width="0" fill="#000"/>
<rect x="1793.70" y="575.38" width="1.60" height="1.60" stroke="none" stroke-width="0" fill="#000"/>
<rect x="1797.90" y="575.38" width="1.60" height="1.60" stroke="none" stroke-width="0" fill="#000"/>
<rect x="1793.70" y="580.59" width="1.60" height="1.60" stroke="none" stroke-width="0" fill="#000"/>
<rect x="1797.90" y="580.59" width="1.60" height="1.60" stroke="none" stroke-width="0" fill="#000"/>
<rect x="1793.70" y="585.80" width="1.60" height="1.60" stroke="none" stroke-width="0" fill="#000"/>
<rect x="1797.90" y="585.80" width="1.60" height="1.60" stroke="none" stroke-width="0" fill="#000"/>
<rect x="1786.40" y="559.25" width="2.10" height="7.90" stroke="#000" stroke-width="0.8" fill="#fff"/>
<line x1="1786.40" y1="591.00" x2="1807.00" y2="591.00" stroke="#000" stroke-width="1.0" />
<line x1="1787.90" y1="598.20" x2="1805.50" y2="598.20" stroke="#8a8a8a" stroke-width="1.8" />
<line x1="1786.40" y1="603.70" x2="1807.00" y2="603.70" stroke="#000" stroke-width="1.0" />
<line x1="1786.40" y1="609.40" x2="1807.00" y2="609.40" stroke="#000" stroke-width="1.0" />
</g>
<g transform="translate(0.00,0.00)">
<rect x="1806.60" y="498.20" width="20.60" height="114.00" stroke="#000" stroke-width="1.5" fill="none"/>
<rect x="1808.20" y="499.80" width="17.40" height="111.20" stroke="#555" stroke-width="0.7" fill="none"/>
<line x1="1806.60" y1="505.90" x2="1827.20" y2="505.90" stroke="#000" stroke-width="1.0" />
<line x1="1808.10" y1="511.20" x2="1825.70" y2="511.20" stroke="#8a8a8a" stroke-width="1.8" />
<line x1="1806.60" y1="517.90" x2="1827.20" y2="517.90" stroke="#000" stroke-width="1.0" />
<rect x="1808.70" y="519.60" width="16.20" height="70.10" stroke="#222" stroke-width="0.8" fill="none"/>
<line x1="1823.60" y1="519.60" x2="1823.60" y2="589.70" stroke="#8a8a8a" stroke-width="1.4" />
<line x1="1809.80" y1="519.60" x2="1809.80" y2="589.70" stroke="#777" stroke-width="0.7" />
<rect x="1813.90" y="521.90" width="1.60" height="1.60" stroke="none" stroke-width="0" fill="#000"/>
<rect x="1818.10" y="521.90" width="1.60" height="1.60" stroke="none" stroke-width="0" fill="#000"/>
<rect x="1813.90" y="527.23" width="1.60" height="1.60" stroke="none" stroke-width="0" fill="#000"/>
<rect x="1818.10" y="527.23" width="1.60" height="1.60" stroke="none" stroke-width="0" fill="#000"/>
<rect x="1813.90" y="532.55" width="1.60" height="1.60" stroke="none" stroke-width="0" fill="#000"/>
<rect x="1818.10" y="532.55" width="1.60" height="1.60" stroke="none" stroke-width="0" fill="#000"/>
<rect x="1813.90" y="537.88" width="1.60" height="1.60" stroke="none" stroke-width="0" fill="#000"/>
<rect x="1818.10" y="537.88" width="1.60" height="1.60" stroke="none" stroke-width="0" fill="#000"/>
<rect x="1813.90" y="543.20" width="1.60" height="1.60" stroke="none" stroke-width="0" fill="#000"/>
<rect x="1818.10" y="543.20" width="1.60" height="1.60" stroke="none" stroke-width="0" fill="#000"/>
<rect x="1813.90" y="548.53" width="1.60" height="1.60" stroke="none" stroke-width="0" fill="#000"/>
<rect x="1818.10" y="548.53" width="1.60" height="1.60" stroke="none" stroke-width="0" fill="#000"/>
<rect x="1813.90" y="553.85" width="1.60" height="1.60" stroke="none" stroke-width="0" fill="#000"/>
<rect x="1818.10" y="553.85" width="1.60" height="1.60" stroke="none" stroke-width="0" fill="#000"/>
<rect x="1813.90" y="559.18" width="1.60" height="1.60" stroke="none" stroke-width="0" fill="#000"/>
<rect x="1818.10" y="559.18" width="1.60" height="1.60" stroke="none" stroke-width="0" fill="#000"/>
<rect x="1813.90" y="564.50" width="1.60" height="1.60" stroke="none" stroke-width="0" fill="#000"/>
<rect x="1818.10" y="564.50" width="1.60" height="1.60" stroke="none" stroke-width="0" fill="#000"/>
<rect x="1813.90" y="569.83" width="1.60" height="1.60" stroke="none" stroke-width="0" fill="#000"/>
<rect x="1818.10" y="569.83" width="1.60" height="1.60" stroke="none" stroke-width="0" fill="#000"/>
<rect x="1813.90" y="575.15" width="1.60" height="1.60" stroke="none" stroke-width="0" fill="#000"/>
<rect x="1818.10" y="575.15" width="1.60" height="1.60" stroke="none" stroke-width="0" fill="#000"/>
<rect x="1813.90" y="580.48" width="1.60" height="1.60" stroke="none" stroke-width="0" fill="#000"/>
<rect x="1818.10" y="580.48" width="1.60" height="1.60" stroke="none" stroke-width="0" fill="#000"/>
<rect x="1813.90" y="585.80" width="1.60" height="1.60" stroke="none" stroke-width="0" fill="#000"/>
<rect x="1818.10" y="585.80" width="1.60" height="1.60" stroke="none" stroke-width="0" fill="#000"/>
<rect x="1806.60" y="550.75" width="2.10" height="7.90" stroke="#000" stroke-width="0.8" fill="#fff"/>
<line x1="1806.60" y1="591.00" x2="1827.20" y2="591.00" stroke="#000" stroke-width="1.0" />
<line x1="1808.10" y1="598.20" x2="1825.70" y2="598.20" stroke="#8a8a8a" stroke-width="1.8" />
<line x1="1806.60" y1="603.70" x2="1827.20" y2="603.70" stroke="#000" stroke-width="1.0" />
<line x1="1806.60" y1="609.40" x2="1827.20" y2="609.40" stroke="#000" stroke-width="1.0" />
</g>
<text transform="translate(1542.50,43.50) scale(0.9067,1)" font-family='"IPAGothic","Liberation Mono",monospace' font-size="19.3" stroke="#000" stroke-width="0.22" >＜</text>
<text transform="translate(1560.00,43.50) scale(0.9296,1)" font-family='"IPAGothic","Liberation Mono",monospace' font-size="19.3" stroke="#000" stroke-width="0.22" >The Layout of control part on the front panel</text>
<text transform="translate(1964.00,43.50) scale(0.9067,1)" font-family='"IPAGothic","Liberation Mono",monospace' font-size="19.3" stroke="#000" stroke-width="0.22" >＞</text>
<text transform="translate(1551.50,74.30) scale(0.9444,1)" font-family='"IPAGothic","Liberation Mono",monospace' font-size="18" stroke="#000" stroke-width="0.22" >○</text>
<text transform="translate(1568.50,74.00) scale(0.9326,1)" font-family='"IPAGothic","Liberation Mono",monospace' font-size="19.3" stroke="#000" stroke-width="0.22" >S2</text>
<text transform="translate(1552.00,94.00) scale(0.9687,1)" font-family='"IPAGothic","Liberation Mono",monospace' font-size="19.3" stroke="#000" stroke-width="0.22" >(RS-232C communication)</text>
<text transform="translate(1551.50,377.80) scale(0.9444,1)" font-family='"IPAGothic","Liberation Mono",monospace' font-size="18" stroke="#000" stroke-width="0.22" >○</text>
<text transform="translate(1568.50,377.50) scale(0.9326,1)" font-family='"IPAGothic","Liberation Mono",monospace' font-size="19.3" stroke="#000" stroke-width="0.22" >PV</text>
<text transform="translate(1552.50,397.50) scale(0.9712,1)" x="0.00 9.65 19.30 28.95 38.60 48.25 57.90 67.55 77.20 86.85 96.50 106.15 115.80 125.45 135.10 144.75 154.40 164.05 173.70 183.35 193.00 202.65 212.30 221.95 231.60 241.25 250.90 260.55 270.20 279.85 289.50 299.15 308.80 318.45 328.10 337.75 347.40 357.05 366.70 376.35 386.00 395.65 405.30" font-family='"IPAGothic","Liberation Mono",monospace' font-size="19.3" stroke="#000" stroke-width="0.22" ><tspan y="0">(8bit parallel communication / analog </tspan><tspan y="-1.0" font-family='"Liberation Sans",sans-serif' font-size="19.69">0</tspan><tspan y="0">-5V)</tspan></text>
<text transform="translate(1547.00,232.00) scale(0.9326,1)" font-family='"IPAGothic","Liberation Mono",monospace' font-size="19.3" stroke="#000" stroke-width="0.22" >MODE Switch</text>
<path d="M1547.00 237.20 L1652.60 237.20 L1697.60 206.20" stroke="#000" stroke-width="1.2" fill="none" stroke-linejoin="round" stroke-linecap="round"/>
<path d="M1687.87 218.86 L1697.60 206.20 L1682.31 210.80" stroke="#000" stroke-width="2.3" fill="none" stroke-linejoin="round" stroke-linecap="round"/>
<text transform="translate(1547.00,271.50) scale(0.9474,1)" font-family='"IPAGothic","Liberation Mono",monospace' font-size="19.3" stroke="#000" stroke-width="0.22" >RS-232C</text>
<text transform="translate(1547.00,293.50) scale(0.9406,1)" font-family='"IPAGothic","Liberation Mono",monospace' font-size="19.3" stroke="#000" stroke-width="0.22" >communication</text>
<text transform="translate(1547.00,313.50) scale(0.9257,1)" font-family='"IPAGothic","Liberation Mono",monospace' font-size="19.3" stroke="#000" stroke-width="0.22" >input connector</text>
<path d="M1547.00 318.00 L1684.00 318.00 L1724.30 275.60" stroke="#000" stroke-width="1.2" fill="none" stroke-linejoin="round" stroke-linecap="round"/>
<path d="M1717.39 290.00 L1724.30 275.60 L1710.28 283.25" stroke="#000" stroke-width="2.3" fill="none" stroke-linejoin="round" stroke-linecap="round"/>
<text transform="translate(1849.00,308.50) scale(0.9247,1)" font-family='"IPAGothic","Liberation Mono",monospace' font-size="19.3" stroke="#000" stroke-width="0.22" >CN1 connector</text>
<path d="M1968.00 312.00 L1844.40 312.00 L1806.00 258.30" stroke="#000" stroke-width="1.2" fill="none" stroke-linejoin="round" stroke-linecap="round"/>
<path d="M1818.83 267.81 L1806.00 258.30 L1810.86 273.51" stroke="#000" stroke-width="2.3" fill="none" stroke-linejoin="round" stroke-linecap="round"/>
<text transform="translate(1546.50,530.00) scale(0.9326,1)" font-family='"IPAGothic","Liberation Mono",monospace' font-size="19.3" stroke="#000" stroke-width="0.22" >MODE Switch</text>
<path d="M1546.50 534.30 L1652.00 534.30 L1698.80 515.20" stroke="#000" stroke-width="1.2" fill="none" stroke-linejoin="round" stroke-linecap="round"/>
<path d="M1686.58 525.48 L1698.80 515.20 L1682.88 516.41" stroke="#000" stroke-width="2.3" fill="none" stroke-linejoin="round" stroke-linecap="round"/>
<text transform="translate(1589.00,628.00) scale(0.9247,1)" font-family='"IPAGothic","Liberation Mono",monospace' font-size="19.3" stroke="#000" stroke-width="0.22" >CN1 connector</text>
<path d="M1589.00 632.00 L1708.00 632.00 L1786.40 564.60" stroke="#000" stroke-width="1.2" fill="none" stroke-linejoin="round" stroke-linecap="round"/>
<path d="M1778.07 578.23 L1786.40 564.60 L1771.68 570.80" stroke="#000" stroke-width="2.3" fill="none" stroke-linejoin="round" stroke-linecap="round"/>
<text transform="translate(1870.50,602.00) scale(0.9247,1)" font-family='"IPAGothic","Liberation Mono",monospace' font-size="19.3" stroke="#000" stroke-width="0.22" >CN2 connector</text>
<path d="M1989.50 605.30 L1865.20 605.30 L1827.40 561.20" stroke="#000" stroke-width="1.2" fill="none" stroke-linejoin="round" stroke-linecap="round"/>
<path d="M1841.01 569.55 L1827.40 561.20 L1833.57 575.93" stroke="#000" stroke-width="2.3" fill="none" stroke-linejoin="round" stroke-linecap="round"/>
<text transform="translate(1897.50,690.00) scale(0.9276,1)" font-family='"IPAGothic","Liberation Mono",monospace' font-size="21.8" stroke="#000" stroke-width="0.22" >UNIT : mm</text>
<line x1="1897.00" y1="692.50" x2="1989.00" y2="692.50" stroke="#000" stroke-width="1.2" />
<text transform="translate(29.30,686.80) scale(0.9457,1)" font-family='"IPAGothic","Liberation Mono",monospace' font-size="18.4" stroke="#000" stroke-width="0.22" >○</text>
<text transform="translate(58.50,686.60) scale(0.9241,1)" x="0.00 10.10 20.20 30.30 40.40 50.50 60.60 70.70 80.80 90.90 101.00 111.10 121.20 131.30 141.40" font-family='"IPAGothic","Liberation Mono",monospace' font-size="20.2" stroke="#000" stroke-width="0.22" ><tspan y="0">IDGC-3</tspan><tspan y="-1.0" font-family='"Liberation Sans",sans-serif' font-size="20.60">0</tspan><tspan y="0">M8-24-TP</tspan></text>
</svg>
</body></html>
